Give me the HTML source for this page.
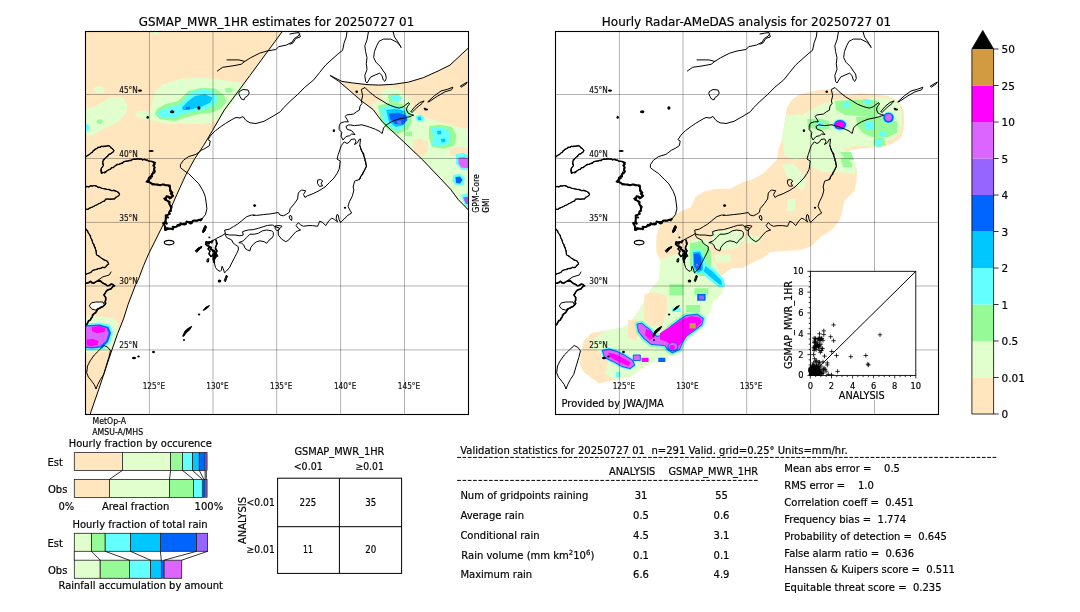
<!DOCTYPE html>
<html><head><meta charset="utf-8"><title>GSMaP validation</title>
<style>html,body{margin:0;padding:0;background:#fff;width:1080px;height:612px;overflow:hidden}</style></head>
<body>
<svg width="1080" height="612" viewBox="0 0 1080 612" style="display:block;font-family:'DejaVu Sans','Liberation Sans',sans-serif;fill:#000">
<style>text{stroke:#000;stroke-width:0.18px;paint-order:stroke}</style>
<rect x="0" y="0" width="1080" height="612" fill="#fff"/>
<text x="276.5" y="25.7" font-size="12" text-anchor="middle" textLength="275.5" lengthAdjust="spacingAndGlyphs">GSMAP_MWR_1HR estimates for 20250727 01</text>
<text x="746.5" y="25.7" font-size="12" text-anchor="middle" textLength="289.5" lengthAdjust="spacingAndGlyphs">Hourly Radar-AMeDAS analysis for 20250727 01</text>
<defs><clipPath id="mapclip"><rect x="85.5" y="31.5" width="383" height="383"/></clipPath></defs>
<g clip-path="url(#mapclip)">
<polygon points="85.5,31.5 282.3,31.5 250.0,75.4 224.3,110.0 212.4,130.7 203.5,145.6 194.6,158.9 185.7,175.2 176.9,194.4 167.2,216.7 162.0,227.0 156.1,238.9 148.7,253.7 143.6,265.6 138.6,278.9 135.6,284.8 128.2,304.1 123.5,318.9 117.6,333.7 112.2,349.1 105.4,369.4 98.6,389.8 90.9,411.9 90.2,414.5 85.5,414.5" fill="#FFE6BE"/>
<polygon points="330.0,75.4 341.9,81.4 352.2,82.9 367.0,84.6 378.9,85.1 393.7,84.3 408.5,82.1 423.3,77.7 438.1,71.0 450.0,65.1 468.5,47.8 468.5,210.1 463.5,204.9 458.3,199.7 450.5,189.2 440.0,178.1 422.8,160.0 403.2,141.4 382.3,121.8 373.0,109.5 361.1,100.6 349.3,90.3 338.9,81.4 330.0,75.4" fill="#FFE6BE"/>
<polygon points="155.0,91.0 163.3,84.3 178.3,79.3 195.0,77.7 211.7,78.5 228.3,81.0 240.0,82.7 246.0,84.0 238.0,95.0 230.0,106.0 222.0,116.0 214.0,122.0 201.7,124.3 185.0,123.5 168.3,124.3 155.0,121.0 140.0,118.0 134.0,114.0 140.0,111.0 150.0,112.0 151.7,104.3 153.3,97.7" fill="#E1FFCC"/>
<polygon points="85.5,109.0 93.2,107.4 101.3,102.5 109.5,97.6 122.6,97.6 127.5,105.8 125.8,113.9 117.7,122.1 104.6,128.6 93.2,135.2 85.5,135.2" fill="#E1FFCC"/>
<polygon points="93.3,88.0 99.0,86.0 105.0,88.5 103.0,92.7 96.0,92.5" fill="#E1FFCC"/>
<polygon points="151.7,31.5 160.0,31.5 158.0,34.3 153.0,34.3" fill="#E1FFCC"/>
<polygon points="156.7,109.3 165.0,104.3 178.3,101.0 188.3,91.0 201.7,87.7 215.0,88.5 223.3,94.3 226.7,101.0 221.7,107.7 211.7,112.7 198.3,114.3 185.0,117.7 175.0,121.0 160.0,119.3 155.0,114.3" fill="#96FA96"/>
<polygon points="225.0,88.5 230.0,87.7 233.3,90.0 231.0,92.7 226.0,92.5" fill="#96FA96"/>
<polygon points="96.7,120.0 101.0,119.3 103.3,122.0 100.0,124.3 97.0,123.0" fill="#96FA96"/>
<polygon points="158.3,111.0 168.3,107.7 180.0,104.3 190.0,92.7 201.7,89.3 213.3,91.0 218.3,97.7 215.0,104.3 206.7,109.3 195.0,111.0 181.7,114.3 175.0,117.7 163.3,117.7 158.3,115.2" fill="#64FFFF"/>
<polygon points="85.5,124.0 89.0,125.0 90.0,129.0 87.0,131.0 85.5,131.0" fill="#64FFFF"/>
<polygon points="181.7,107.7 188.3,101.0 195.0,96.0 205.0,94.3 212.5,97.7 210.0,102.7 201.7,106.8 191.7,109.3 183.3,110.2" fill="#00C8FF"/>
<polygon points="185.8,107.0 190.0,106.5 190.0,109.3 186.0,109.5" fill="#0064FF"/>
<polygon points="85.5,317.0 100.0,316.5 112.0,318.0 118.0,322.0 117.3,333.0 114.0,345.0 108.0,351.0 98.0,352.0 85.5,353.0" fill="#E1FFCC"/>
<polygon points="85.5,323.6 100.0,322.5 110.0,325.0 113.0,332.0 110.0,343.0 104.0,349.0 92.0,350.5 85.5,350.0" fill="#64FFFF"/>
<polygon points="85.5,325.3 100.0,324.5 108.5,327.0 111.0,333.0 108.0,342.0 102.0,347.4 92.0,348.5 85.5,348.0" fill="#0064FF"/>
<polygon points="85.5,326.5 99.0,326.0 106.5,328.0 108.8,333.0 106.0,341.0 100.0,346.2 91.0,347.0 85.5,346.5" fill="#DC64FF"/>
<polygon points="91.8,327.0 100.0,326.1 105.4,328.5 104.5,332.0 97.0,333.0 92.0,331.5" fill="#FF00FF"/>
<polygon points="86.7,339.5 93.0,338.9 98.6,341.0 97.5,345.0 90.0,346.5 86.7,345.0" fill="#FF00FF"/>
<polygon points="380.0,92.0 388.0,88.0 398.0,89.0 404.0,94.0 408.0,100.0 404.0,104.0 395.0,106.0 385.0,104.0" fill="#E1FFCC"/>
<polygon points="372.0,104.0 384.0,100.0 395.0,95.5 405.0,95.0 411.0,100.0 414.0,112.0 424.0,117.0 436.0,121.0 450.0,125.0 460.0,127.5 468.5,129.0 468.5,210.1 463.5,204.9 458.3,199.7 450.5,189.2 440.0,178.1 422.8,160.0 403.2,141.4 382.3,121.8" fill="#E1FFCC"/>
<polygon points="413.0,140.0 420.0,138.5 428.0,142.0 428.0,152.0 422.0,156.8 414.0,153.0" fill="#FFE6BE"/>
<polygon points="449.0,148.0 458.0,146.5 468.5,148.0 468.5,156.0 458.0,158.0 450.0,155.0" fill="#FFE6BE"/>
<polygon points="388.0,95.0 398.0,94.0 402.0,98.0 398.0,103.0 389.0,102.0" fill="#96FA96"/>
<polygon points="391.4,96.0 400.0,95.5 400.6,101.0 392.0,101.9" fill="#64FFFF"/>
<polygon points="405.2,131.6 412.0,131.6 412.0,136.2 405.2,136.2" fill="#96FA96"/>
<polygon points="378.0,106.0 390.0,102.0 402.0,104.0 410.0,112.0 412.0,122.0 408.0,130.0 398.0,134.0 388.0,130.0 381.0,121.0" fill="#96FA96"/>
<polygon points="429.2,126.0 440.0,124.7 452.0,127.0 456.7,136.0 454.0,146.0 444.0,148.8 432.0,147.0 429.0,138.0" fill="#96FA96"/>
<polygon points="380.0,108.0 392.0,105.0 404.0,108.0 408.0,116.0 406.0,126.0 398.0,131.0 390.0,127.0 383.0,120.0" fill="#64FFFF"/>
<polygon points="386.2,110.0 396.0,108.8 405.0,111.0 407.1,118.0 404.0,125.0 396.0,127.0 389.0,122.0" fill="#00C8FF"/>
<polygon points="389.0,113.5 398.0,112.7 406.0,115.0 407.5,120.0 403.0,124.4 395.0,124.0 390.0,119.0" fill="#0064FF"/>
<polygon points="397.0,121.0 400.5,120.5 401.9,123.5 398.0,124.4" fill="#9664FF"/>
<polygon points="415.5,116.0 420.0,114.8 424.1,117.0 423.0,121.8 417.0,121.5" fill="#64FFFF"/>
<polygon points="417.6,117.0 421.0,116.6 421.5,119.9 418.0,119.9" fill="#00C8FF"/>
<polygon points="431.5,128.0 441.0,127.0 449.8,131.0 449.0,143.0 441.0,146.5 432.0,145.0 433.0,137.0" fill="#64FFFF"/>
<polygon points="437.0,131.0 441.0,130.5 441.5,134.0 437.5,134.5" fill="#00C8FF"/>
<polygon points="441.0,139.0 445.0,138.5 445.5,142.0 441.5,142.5" fill="#00C8FF"/>
<polygon points="456.0,154.0 463.0,153.0 468.5,155.0 468.5,170.0 462.0,170.0 456.0,164.0" fill="#64FFFF"/>
<polygon points="458.3,157.8 464.0,157.0 468.5,158.5 468.5,168.3 461.0,167.5 458.5,163.0" fill="#DC64FF"/>
<polygon points="453.0,175.0 460.0,174.0 465.0,178.0 463.5,185.0 456.0,185.5 452.5,181.0" fill="#64FFFF"/>
<polygon points="455.5,177.0 460.0,176.5 462.5,180.0 460.0,183.5 456.0,183.0" fill="#0064FF"/>
<polygon points="461.0,195.0 468.5,193.0 468.5,207.0 465.0,206.0" fill="#64FFFF"/>
<polygon points="463.0,197.5 468.5,196.5 468.5,204.0 466.0,204.0" fill="#9664FF"/>
<polygon points="89.5,305.6 91.3,302.9 95.8,302.0 99.4,302.0 103.0,302.0 104.2,304.5 103.0,306.5 99.4,308.3 95.8,310.1 92.2,309.2" fill="#fff"/>
<g fill="none" stroke="#000" stroke-width="1.0">
<polyline points="282.3,31.5 250.0,75.4 224.3,110.0 212.4,130.7 203.5,145.6 194.6,158.9 185.7,175.2 176.9,194.4 167.2,216.7 162.0,227.0 156.1,238.9 148.7,253.7 143.6,265.6 138.6,278.9 135.6,284.8 128.2,304.1 123.5,318.9 117.6,333.7 112.2,349.1 105.4,369.4 98.6,389.8 90.9,411.9 90.2,414.5"/>
<polyline points="330.0,75.4 341.9,81.4 352.2,82.9 367.0,84.6 378.9,85.1 393.7,84.3 408.5,82.1 423.3,77.7 438.1,71.0 450.0,65.1 468.5,47.8"/>
<polyline points="330.0,75.4 338.9,81.4 349.3,90.3 361.1,100.6 373.0,109.5 382.3,121.8 403.2,141.4 422.8,160.0 440.0,178.1 450.5,189.2 458.3,199.7 463.5,204.9 468.5,210.1"/>
</g>
<g fill="none" stroke="#000" stroke-width="1.0" stroke-linejoin="round" stroke-linecap="round">
<polyline points="201.8,219.1 200.6,220.4 198.8,219.7 197.5,220.7 195.9,220.6 194.3,220.5 192.9,220.8 191.8,223.0 190.3,223.5 188.5,222.1 186.6,221.5 185.9,224.0 184.4,224.6 182.6,224.3 180.5,223.2 179.7,225.5 177.8,224.8 176.8,226.5 175.4,227.1 173.7,227.1 172.8,229.3 170.9,228.7 169.3,228.6 167.6,228.1 166.5,229.7 165.0,230.1 165.6,228.3 165.1,226.6 164.3,225.0 163.1,223.2 165.9,222.3 165.7,220.7 165.7,219.1 165.8,217.3 165.7,215.4 167.9,214.7 169.8,213.8 169.3,211.7 170.9,210.6 170.9,208.8 171.7,206.9 170.6,205.6 169.4,204.4 169.6,201.8 167.2,200.7 165.5,199.9 164.3,198.5 166.2,198.2 166.5,196.3 168.2,196.4 169.7,198.4 171.6,197.1 173.2,195.8 170.7,193.8 172.4,192.6 170.5,191.7 170.0,190.1 170.1,188.2 169.8,185.6 167.2,185.3 165.5,185.3 163.9,184.4 162.1,184.6 160.1,185.3 158.2,184.6 156.2,184.6 154.4,184.5 152.6,184.1 151.0,183.1 149.6,182.3 148.2,181.8 146.6,181.6 149.0,180.5 148.8,177.9 150.3,177.1 152.0,176.5 151.8,174.3 153.7,173.1 154.9,171.5 154.0,169.1 154.8,167.5 153.3,165.5 154.7,164.0" stroke-width="2.0"/>
<polyline points="101.5,173.5 101.0,171.9 100.7,170.2 101.3,168.5 102.3,166.9 103.5,165.6 102.5,163.9 102.8,161.9 103.1,160.0 104.6,158.8 105.7,157.4 107.7,156.4 108.7,154.4 110.4,154.2 111.7,153.0 113.1,152.2 113.9,150.7 112.4,148.5 110.9,147.9 110.0,146.5 108.7,145.6 106.9,146.2 105.1,146.5 103.2,146.8 101.3,146.3 100.1,147.5 98.0,147.1 96.9,148.5 95.3,148.9 94.2,149.9 93.0,150.8 92.4,152.5 90.9,153.0 89.8,154.4 88.1,155.0 86.6,156.0 85.5,157.4" stroke-width="1.15"/>
<polyline points="154.7,164.0 153.2,162.5 155.4,162.6 153.8,162.0 152.1,161.4 150.5,161.0 148.7,161.1 147.4,159.9 145.9,159.8 144.5,159.1 142.5,160.2 141.3,158.9 139.5,159.1 137.7,158.4 135.9,159.1 134.1,158.7 132.4,159.6 131.1,160.7 129.4,160.4 128.1,161.2 126.4,161.1 125.0,161.4 123.5,161.9 122.4,163.4 120.8,163.8 119.2,164.5 117.2,164.2 115.9,165.1 114.6,166.3 113.4,167.7 111.4,167.6 110.5,169.5 108.6,169.6 107.2,170.7 106.1,172.0 104.7,172.9 102.6,172.2 101.5,173.5" stroke-width="1.15"/>
<polyline points="85.5,283.5 86.8,283.1 88.9,282.8 90.4,281.3 91.9,282.9 94.0,283.1 95.3,282.2 96.7,281.3 98.3,280.9 99.8,280.4 101.2,281.7 102.8,283.2 104.8,284.0 106.2,284.8 107.5,285.8 109.6,285.5 111.1,284.0 113.0,284.6 114.7,285.8 113.0,286.2 112.0,287.6 111.0,289.0 109.3,289.4 107.7,289.7 106.6,290.8 105.7,292.1 105.0,293.6 103.9,294.8 104.7,296.2 105.7,297.5 105.7,300.2 105.0,301.6 105.8,303.3 104.8,304.7 103.0,306.5 101.1,307.3 99.4,308.3 97.5,309.1 96.7,311.0 95.7,312.7 94.0,313.7 92.5,315.1 92.2,317.2 90.9,318.4 90.4,320.0 88.5,320.7 87.7,322.6 86.9,324.3 85.5,325.5" stroke-width="1.6"/>
<polyline points="85.5,228.5 86.7,229.8 87.9,231.2 88.2,233.0 89.4,234.4 90.6,235.7 90.6,237.4 91.4,238.8 92.4,240.2 92.4,241.9 93.0,243.4 94.2,244.6 94.3,246.3 95.4,247.6 95.4,249.3 96.3,250.6 96.3,252.2 96.1,253.8 96.9,255.2 98.7,255.7 100.0,256.8 101.3,258.1 102.7,259.0 104.0,260.2 105.7,260.4 107.2,261.1 108.1,262.5 108.7,264.1 106.7,265.1 105.7,267.0 104.3,267.9 102.6,267.1 101.3,268.2 99.9,268.7 98.3,268.5 97.0,269.5 95.5,269.8 93.9,270.0 92.2,270.6 91.1,272.4 89.4,273.0 87.4,273.6 85.5,274.4" stroke-width="1.05"/>
<polyline points="85.5,187.0 87.1,186.3 89.0,187.2 90.4,185.6 92.3,186.2 93.9,185.6 95.6,185.5 97.0,186.2 98.1,187.8 100.0,187.1 101.2,188.2 102.8,188.5 104.3,188.7 105.8,189.0 107.2,189.4 108.8,189.2 110.2,190.0 111.8,190.9 113.7,190.1 115.3,190.7 116.9,191.5 118.8,192.5 119.6,194.5 118.6,195.9 117.2,196.8 115.4,197.3 114.6,198.9 112.8,199.1 110.9,199.5 109.0,199.3 107.2,198.9 105.3,199.1 104.6,201.3 102.7,201.4 101.4,202.6 99.8,203.3 98.2,203.8 97.0,205.0 95.2,205.3 93.9,206.3 92.4,207.1 90.8,207.6 89.2,208.0 88.0,209.3 85.5,209.3" stroke-width="1.05"/>
<polyline points="214.2,262.3 213.8,260.6 213.3,258.9 213.5,257.1 213.0,254.7 214.8,253.1 214.8,251.1 212.9,250.5 210.9,249.2 209.6,246.6 207.0,245.3 205.8,244.2 206.2,242.0 208.3,242.5 209.7,241.9 211.6,242.5 212.5,240.8" stroke-width="2.0"/>
<polyline points="209.6,246.6 208.0,249.0 210.0,251.0 209.4,252.5 209.0,254.0 210.1,255.2 211.0,256.5 213.0,255.0" stroke-width="1.5"/>
<polyline points="216.0,240.0 216.6,242.0 217.0,244.0 216.1,245.7 215.5,247.5 215.5,249.4 217.0,250.5 216.6,252.0 216.0,253.5 217.5,256.0" stroke-width="1.5"/>
<polyline points="359.8,145.6 360.4,147.1 360.7,148.6 361.2,150.1 362.0,151.5 363.1,152.8 363.9,154.2 363.9,155.9 364.3,157.4 365.1,158.8 364.8,160.5 365.7,161.9 365.8,164.2 366.5,166.3 365.6,167.7 365.0,169.2 364.3,170.7 363.2,172.1 362.9,174.0 361.6,175.3 360.6,176.7 360.3,178.4 359.1,179.6" stroke-width="1.1"/>
<polyline points="217.4,71.0 222.6,67.3 233.0,65.8 241.1,64.3 244.8,61.4 250.7,57.7 259.6,53.2 267.0,51.0 275.9,49.5 278.9,46.6 286.3,45.1 292.2,42.1 294.4,38.4 298.1,36.2 299.6,34.0"/>
<polyline points="227.0,59.9 238.9,59.9 244.8,61.4"/>
<polyline points="290.0,34.0 294.4,33.2 298.9,32.5 300.4,36.9 295.9,38.4 293.0,42.9 290.0,44.3"/>
<polyline points="347.0,31.5 346.3,36.9 344.1,42.9 342.6,50.3 338.9,53.2 333.0,58.4 325.6,65.1 319.6,72.5 313.7,79.9 304.8,87.3 297.4,94.7 290.0,101.4 283.3,108.0 280.4,111.7 273.0,116.2 264.0,121.3 256.0,123.5 250.0,122.8 246.0,120.5 243.0,116.5 240.0,118.0 236.0,117.5 233.1,118.9 225.7,123.3 221.3,126.3 215.4,130.7 210.9,135.2 208.0,139.6 210.2,141.1 209.4,145.6 205.0,148.5 201.8,150.0 195.9,154.4 188.5,156.6 183.4,160.3 180.4,164.7 180.4,167.6 184.1,170.6 188.5,173.5 194.4,179.4 198.8,183.8 203.2,191.2 205.4,197.1 206.2,202.9 206.9,208.8 205.4,214.7 201.8,219.1 195.9,220.6 188.5,222.1 182.6,224.3 176.8,226.5 170.9,228.7 165.0,230.1 164.3,225.0 165.7,219.1 167.9,214.7 170.9,208.8 169.4,204.4 167.2,200.7 164.3,198.5 166.5,196.3 171.6,197.1 172.4,192.6 170.1,188.2 167.2,185.3 162.1,184.6 156.2,184.6 151.0,183.1 146.6,181.6 148.8,177.9 151.8,174.3 154.0,169.1 154.7,164.0 153.2,162.5 155.4,162.6 148.7,161.1 141.3,158.9 132.4,159.6 123.5,161.9 114.6,166.3 107.2,170.7 101.5,173.5 101.3,168.5 103.5,165.6 102.8,161.9 105.7,157.4 108.7,154.4 111.7,153.0 113.9,150.7 112.4,148.5 108.7,145.6 101.3,146.3 96.9,148.5 90.9,153.0 85.5,157.4"/>
<polyline points="85.5,187.0 93.9,185.6 102.8,188.5 110.2,190.0 116.9,191.5 119.6,194.5 114.6,198.9 107.2,198.9 99.8,203.3 93.9,206.3 88.0,209.3 85.5,209.3"/>
<polyline points="85.5,228.5 89.4,234.4 92.4,241.9 95.4,249.3 96.9,255.2 101.3,258.1 107.2,261.1 108.7,264.1 105.7,267.0 98.3,268.5 93.9,270.0 89.4,273.0 85.5,274.4"/>
<polyline points="85.5,283.5 86.8,283.1 90.4,281.3 94.0,283.1 96.7,281.3 101.2,281.7 104.8,284.0 107.5,285.8 111.1,284.0 114.7,285.8 112.0,287.6 109.3,289.4 105.7,292.1 103.9,294.8 105.7,297.5 105.7,300.2 104.8,304.7 103.0,306.5 99.4,308.3 96.7,311.0 94.0,313.7 92.2,317.2 90.4,320.0 87.7,322.6 85.5,325.5"/>
<polyline points="97.6,280.4 103.0,276.8 109.3,275.0 111.0,272.0"/>
<polyline points="209.6,246.6 208.0,249.0 210.0,251.0 209.0,254.0 211.0,256.5 213.0,255.0"/>
<polyline points="216.0,240.0 217.0,244.0 215.5,247.5 217.0,250.5 216.0,253.5 217.5,256.0"/>
<polyline points="368.5,31.5 367.0,39.9 364.8,45.8 365.6,51.7 367.0,57.7 366.3,63.6 367.0,69.5 364.8,75.4 365.6,81.4 367.0,83.0 370.7,77.0 375.9,74.7 379.6,73.2 381.9,75.4 383.3,80.0 384.8,81.4 386.3,78.4 385.6,74.0 383.3,71.0 380.4,66.6 375.9,62.1 373.7,57.7 374.4,51.7 376.7,45.8 378.9,41.4 383.3,39.1 390.7,39.1 396.7,42.1 400.4,45.8 401.1,47.6 398.0,42.0 394.5,37.0 393.0,31.5"/>
<polygon points="239.5,91.5 243.0,89.5 248.0,90.0 249.3,93.0 247.5,96.0 245.0,97.5 244.0,99.9 241.5,99.0 240.0,96.5 239.0,94.0" fill="none"/>
<polygon points="104.5,345.7 107.9,347.4 110.5,350.8 108.8,357.5 106.2,366.0 103.7,374.5 100.3,379.6 97.7,384.7 96.0,389.0 94.3,384.7 91.8,381.3 88.4,377.1 86.7,372.8 87.5,366.0 90.1,360.9 94.3,355.0 98.6,350.8 102.0,347.4" fill="none"/>
<polygon points="89.5,305.6 91.3,302.9 95.8,302.0 99.4,302.0 103.0,302.0 104.2,304.5 103.0,306.5 99.4,308.3 95.8,310.1 92.2,309.2" fill="none"/>
<polygon points="205.5,225.6 206.5,227.0 205.0,231.0 203.0,233.0 202.5,231.0 204.0,227.5" fill="#000"/>
<polygon points="225.0,234.2 226.7,237.5 231.7,240.0 233.3,243.3 235.8,245.0 238.3,246.7 238.3,250.0 236.7,253.3 235.0,256.7 233.3,260.0 231.2,264.0 229.5,267.5 226.5,271.0 224.5,272.8 223.3,268.8 222.0,266.2 221.4,270.1 220.1,271.4 217.5,270.1 215.5,267.5 214.2,262.3 213.5,257.1 214.8,253.1 212.9,250.5 210.9,249.2 209.6,246.6 207.0,245.3 205.8,244.2 208.3,242.5 212.5,240.8 216.7,238.3 221.7,235.8" fill="none"/>
<polygon points="195.4,250.5 198.0,248.0 202.0,246.3 200.0,249.0 197.0,252.2" fill="#000"/>
<polygon points="225.0,230.0 229.2,229.2 233.3,226.7 237.5,224.2 241.7,220.8 246.7,216.7 251.7,215.0 256.7,215.4 263.3,214.6 270.8,213.8 278.3,212.5 280.0,215.0 283.3,215.8 286.7,214.2 289.4,212.2 290.2,208.5 294.6,203.3 297.6,198.9 298.3,193.0 301.3,190.0 305.7,190.7 303.5,194.5 305.0,197.5 307.2,195.9 313.1,193.7 319.1,190.7 325.0,187.0 329.4,182.6 333.9,178.1 336.9,173.7 339.1,169.3 339.8,164.8 340.2,161.0 337.0,159.0 338.3,154.4 339.8,150.0 341.3,145.6 344.3,141.9 347.0,143.5 349.5,142.0 351.0,139.5 354.6,138.9 356.0,141.5 354.5,144.5 357.6,142.6 359.1,139.5 360.5,139.0 359.8,145.6 362.0,151.5 364.3,157.4 365.7,161.9 366.5,166.3 364.3,170.7 360.6,176.7 359.1,179.6 354.6,181.1 353.1,187.0 353.9,190.0 352.4,195.9 349.4,201.9 348.0,206.3 350.2,210.7 351.7,213.0 348.0,215.2 345.0,218.1 342.0,221.1 340.6,222.6 339.1,219.6 338.3,215.2 337.0,214.5 336.1,218.1 337.6,221.9 334.6,219.6 331.7,218.1 328.7,221.1 325.7,225.6 322.8,222.6 319.8,221.1 317.6,226.3 312.4,225.6 308.0,225.6 303.5,226.3 300.6,224.8 298.3,222.6 296.1,225.6 298.3,228.5 300.6,230.0 296.1,231.5 292.0,236.0 288.5,240.2 285.8,241.7 281.7,239.2 278.3,235.0 278.3,230.8 279.5,228.0 275.0,226.7 272.5,225.0 267.5,225.4 263.3,226.7 258.3,228.3 253.3,229.6 248.3,230.0 245.0,230.8 242.5,231.7 243.3,235.0 240.0,235.8 235.0,235.0 229.2,235.0 225.8,234.2" fill="none"/>
<polygon points="239.2,242.5 243.3,240.8 246.7,237.5 250.0,234.2 254.2,234.2 258.3,233.3 262.5,230.8 266.7,230.0 271.7,230.8 273.3,232.5 273.3,235.8 271.7,238.3 270.0,239.2 266.7,243.3 264.2,241.7 260.0,240.8 256.7,241.7 253.3,244.2 250.8,247.5 250.0,250.8 247.5,250.0 245.0,248.3 243.8,245.0 241.7,243.3" fill="none"/>
<polygon points="275.5,226.0 279.0,225.5 282.0,226.2 280.0,228.5 277.0,230.8 275.5,229.0" fill="none"/>
<polygon points="289.5,216.0 291.0,215.5 292.0,218.0 291.5,220.5 290.0,219.0" fill="none"/>
<polygon points="213.5,253.0 216.0,252.5 217.0,256.0 215.0,259.0 213.5,257.0" fill="#000"/>
<polygon points="207.5,259.0 208.8,258.5 208.5,262.0 207.3,262.0" fill="#000"/>
<polygon points="365.3,87.8 369.2,91.8 375.8,97.0 382.3,100.9 387.5,104.2 394.0,106.8 399.3,108.1 403.2,106.8 406.0,104.5 408.7,102.7 409.5,104.0 407.0,107.0 406.5,110.0 408.4,113.5 411.5,114.5 413.7,115.2 409.7,116.6 404.5,117.9 398.0,119.2 391.4,121.8 386.2,125.1 383.5,128.0 382.2,133.5 379.0,131.0 375.4,129.3 369.4,127.0 362.0,124.8 354.6,125.6 348.7,124.8 345.9,126.5 347.2,129.3 351.7,130.7 355.0,134.6 351.7,134.0 349.7,135.7 346.0,136.5 343.0,140.0 341.1,136.2 341.8,132.3 339.2,129.7 339.2,125.8 340.5,123.1 344.4,121.8 348.3,121.8 347.0,119.2 345.2,116.6 346.5,115.0 353.5,114.0 356.1,112.0 359.4,110.1 360.0,106.1 362.0,103.5 361.4,100.9 362.7,95.7 361.4,89.8" fill="none"/>
<polygon points="411.0,111.4 415.0,106.5 420.0,102.5 424.1,100.9 422.0,103.5 417.0,107.5 412.5,112.0" fill="none"/>
<polygon points="428.0,101.6 434.5,95.7 441.0,91.0 447.6,89.2 452.9,87.2 451.6,89.8 445.0,91.8 437.2,96.3 429.3,101.6" fill="none"/>
<polygon points="460.7,85.9 467.3,82.0 466.0,84.0 461.5,87.0" fill="none"/>
<polygon points="318.0,180.0 320.5,179.5 322.8,181.0 321.0,183.0 322.5,186.0 319.5,186.3 317.8,184.0" fill="none"/>
<polygon points="182.8,335.9 185.0,331.0 188.0,328.5 191.7,326.3 190.0,329.5 186.0,333.0 184.0,336.0" fill="#000"/>
<polygon points="203.5,310.0 206.0,307.0 209.4,305.6 207.5,308.0 204.5,310.0" fill="#000"/>
<polygon points="226.5,275.5 227.5,276.0 225.5,281.5 224.5,281.0" fill="#000"/>
</g>
<ellipse cx="219.5" cy="281" rx="1.8" ry="1.6" fill="#000"/>
<ellipse cx="199.1" cy="314.4" rx="1.2" ry="1.0" fill="#000"/>
<ellipse cx="153.5" cy="352" rx="1.4" ry="1.2" fill="#000"/>
<ellipse cx="134" cy="358" rx="2.0" ry="1.3" fill="#000"/>
<ellipse cx="138.5" cy="356.5" rx="1.3" ry="1.0" fill="#000"/>
<ellipse cx="169.1" cy="242.6" rx="4.8" ry="2.2" fill="none" stroke="#000" stroke-width="1.15"/>
<ellipse cx="209.4" cy="237.4" rx="1.0" ry="0.9" fill="#000"/>
<ellipse cx="254.6" cy="205.6" rx="1.5" ry="1.3" fill="#000"/>
<ellipse cx="253.9" cy="215.2" rx="0.9" ry="0.8" fill="#000"/>
<ellipse cx="345" cy="207.8" rx="1.2" ry="1.0" fill="#000"/>
<ellipse cx="356.7" cy="91.7" rx="1.3" ry="1.2" fill="#000"/>
<ellipse cx="333.9" cy="130.7" rx="1.2" ry="1.4" fill="#000"/>
<ellipse cx="426.1" cy="109.4" rx="2.0" ry="1.0" fill="#000"/>
<ellipse cx="424.8" cy="108.5" rx="1.2" ry="0.8" fill="#000"/>
<ellipse cx="140" cy="90.6" rx="2.0" ry="1.2" fill="#000"/>
<ellipse cx="147.7" cy="117.3" rx="1.2" ry="1.5" fill="#000"/>
<ellipse cx="151.2" cy="151" rx="2.6" ry="1.0" fill="#000"/>
<ellipse cx="172.2" cy="111.7" rx="2.2" ry="1.5" fill="#000"/>
<ellipse cx="198.9" cy="108" rx="1.6" ry="1.8" fill="#000"/>
<ellipse cx="184" cy="340" rx="1.0" ry="1.0" fill="#000"/>
<ellipse cx="165.5" cy="228.5" rx="1.6" ry="1.3" fill="#000"/>
<ellipse cx="166.5" cy="223.5" rx="1.3" ry="1.2" fill="#000"/>
<ellipse cx="168" cy="217.5" rx="1.2" ry="1.0" fill="#000"/>
<ellipse cx="170.5" cy="211" rx="1.2" ry="1.1" fill="#000"/>
<ellipse cx="165.5" cy="199.5" rx="1.3" ry="1.1" fill="#000"/>
<ellipse cx="170.5" cy="198" rx="1.0" ry="1.0" fill="#000"/>
<ellipse cx="173" cy="226.8" rx="1.4" ry="1.0" fill="#000"/>
<ellipse cx="178" cy="225.5" rx="1.3" ry="1.0" fill="#000"/>
<ellipse cx="184" cy="223.5" rx="1.2" ry="1.0" fill="#000"/>
<ellipse cx="190" cy="222.2" rx="1.3" ry="1.0" fill="#000"/>
<ellipse cx="196" cy="220.8" rx="1.2" ry="0.9" fill="#000"/>
<ellipse cx="200.5" cy="219.5" rx="1.0" ry="0.9" fill="#000"/>
<ellipse cx="150.5" cy="178.5" rx="1.2" ry="1.0" fill="#000"/>
<ellipse cx="147.8" cy="182" rx="1.2" ry="1.0" fill="#000"/>
<ellipse cx="152.5" cy="184.5" rx="1.0" ry="0.9" fill="#000"/>
<ellipse cx="158" cy="185.3" rx="0.9" ry="0.8" fill="#000"/>
<ellipse cx="208.5" cy="243.5" rx="1.4" ry="1.2" fill="#000"/>
<ellipse cx="211" cy="247.5" rx="1.2" ry="1.1" fill="#000"/>
<ellipse cx="213" cy="251.5" rx="1.1" ry="1.1" fill="#000"/>
<ellipse cx="216.5" cy="243" rx="1.0" ry="1.0" fill="#000"/>
<ellipse cx="214.5" cy="259" rx="1.0" ry="1.0" fill="#000"/>
<ellipse cx="201" cy="247.5" rx="1.1" ry="0.9" fill="#000"/>
<g stroke="#000" stroke-opacity="0.3" stroke-width="1">
<line x1="149.4" y1="31.5" x2="149.4" y2="414.5"/>
<line x1="213.0" y1="31.5" x2="213.0" y2="414.5"/>
<line x1="276.7" y1="31.5" x2="276.7" y2="414.5"/>
<line x1="340.6" y1="31.5" x2="340.6" y2="414.5"/>
<line x1="404.5" y1="31.5" x2="404.5" y2="414.5"/>
<line x1="85.5" y1="94.5" x2="468.5" y2="94.5"/>
<line x1="85.5" y1="158.5" x2="468.5" y2="158.5"/>
<line x1="85.5" y1="222.4" x2="468.5" y2="222.4"/>
<line x1="85.5" y1="286.0" x2="468.5" y2="286.0"/>
<line x1="85.5" y1="349.9" x2="468.5" y2="349.9"/>
</g>
</g>
<g font-size="8.6" fill="#111">
<text x="119.2" y="92.8" textLength="18.6" lengthAdjust="spacingAndGlyphs">45°N</text>
<text x="119.2" y="156.8" textLength="18.6" lengthAdjust="spacingAndGlyphs">40°N</text>
<text x="119.2" y="220.7" textLength="18.6" lengthAdjust="spacingAndGlyphs">35°N</text>
<text x="119.2" y="284.3" textLength="18.6" lengthAdjust="spacingAndGlyphs">30°N</text>
<text x="119.2" y="348.2" textLength="18.6" lengthAdjust="spacingAndGlyphs">25°N</text>
<text x="142.7" y="388.9" textLength="22.4" lengthAdjust="spacingAndGlyphs">125°E</text>
<text x="206.3" y="388.9" textLength="22.4" lengthAdjust="spacingAndGlyphs">130°E</text>
<text x="270.0" y="388.9" textLength="22.4" lengthAdjust="spacingAndGlyphs">135°E</text>
<text x="333.9" y="388.9" textLength="22.4" lengthAdjust="spacingAndGlyphs">140°E</text>
<text x="397.8" y="388.9" textLength="22.4" lengthAdjust="spacingAndGlyphs">145°E</text>
</g>
<rect x="85.5" y="31.5" width="383" height="383" fill="none" stroke="#000" stroke-width="1.1"/>
<text x="0" y="0" font-size="8.6" transform="translate(479.2,212.7) rotate(-90)" textLength="38.5" lengthAdjust="spacingAndGlyphs">GPM-Core</text>
<text x="0" y="0" font-size="8.6" transform="translate(489.0,212.7) rotate(-90)" textLength="14.1" lengthAdjust="spacingAndGlyphs">GMI</text>
<g clip-path="url(#mapclip2)">
<defs><clipPath id="mapclip2"><rect x="555.5" y="31.5" width="383" height="383"/></clipPath></defs>
<polygon points="786.7,108.3 791.7,100.0 798.3,95.0 806.7,92.5 818.3,90.0 830.0,89.2 840.0,93.3 850.0,95.0 860.0,93.3 873.3,94.2 886.7,95.8 893.3,98.3 900.0,103.3 903.3,110.0 904.2,120.0 903.3,130.0 901.7,136.7 893.3,143.3 883.3,146.7 873.3,148.3 860.0,148.3 851.7,150.0 846.7,153.3 846.7,160.0 853.3,163.3 856.7,168.3 856.7,180.0 854.5,190.9 844.3,201.1 842.2,211.3 840.2,219.5 832.0,229.7 819.8,237.8 811.6,246.0 801.4,250.1 783.0,251.1 770.7,252.1 762.6,258.3 757.6,260.2 742.0,268.0 731.6,268.0 721.2,275.8 723.8,286.2 721.2,294.0 713.4,301.8 710.8,309.5 705.6,319.9 700.5,327.7 692.7,335.5 684.9,343.3 677.1,351.1 669.3,356.3 664.1,361.5 653.7,361.5 640.7,369.3 630.3,377.1 614.7,379.7 599.2,383.6 594.0,379.7 583.6,371.9 579.7,364.1 581.0,353.7 583.6,340.7 591.4,332.9 607.0,330.3 622.5,327.7 630.3,322.5 635.5,314.7 640.7,307.0 645.9,299.2 651.1,288.8 658.9,280.0 664.0,274.0 663.1,265.6 660.2,259.6 656.3,252.2 656.3,235.8 660.4,225.6 670.6,217.4 680.9,211.3 691.1,207.2 695.2,197.0 705.4,190.9 717.6,188.8 729.9,188.8 742.1,182.7 754.4,178.6 763.3,173.3 770.0,166.7 776.7,160.0 778.3,150.0 781.7,140.0 783.3,130.0 785.0,120.0" fill="#FFE6BE"/>
<polygon points="808.0,112.0 820.0,105.0 834.0,100.0 850.0,99.0 866.0,99.0 880.0,97.0 892.0,99.0 899.0,104.0 902.0,112.0 902.0,124.0 899.0,133.0 893.0,138.5 885.0,141.5 878.0,146.0 872.0,148.0 866.0,146.0 856.0,145.5 848.0,149.0 840.0,146.0 830.0,143.0 818.0,140.0 808.0,136.0 800.0,130.0 796.0,122.0 800.0,116.0" fill="#E1FFCC"/>
<polygon points="786.0,116.0 798.0,114.0 808.0,120.0 812.0,132.0 812.0,146.0 808.0,156.0 796.0,160.0 784.0,155.0 782.0,136.0" fill="#E1FFCC"/>
<polygon points="835.0,101.0 850.0,100.0 866.0,99.0 878.0,101.0 880.0,110.0 876.0,117.0 860.0,116.0 845.0,115.0 836.0,110.0" fill="#96FA96"/>
<polygon points="856.0,117.0 872.0,116.0 886.0,118.0 897.6,122.0 897.0,133.0 888.0,137.0 876.0,138.0 864.0,134.0 857.0,126.0" fill="#96FA96"/>
<polygon points="807.0,119.3 820.0,118.5 829.0,121.0 829.0,129.1 818.0,130.0 808.0,127.0" fill="#96FA96"/>
<polygon points="874.0,138.0 884.0,137.5 886.0,145.0 878.0,147.5 873.0,144.0" fill="#96FA96"/>
<polygon points="843.7,102.2 849.9,102.2 849.9,107.0 843.7,107.0" fill="#64FFFF"/>
<polygon points="864.6,99.7 870.7,99.7 870.7,104.6 864.6,104.6" fill="#64FFFF"/>
<polygon points="865.8,121.8 873.1,121.8 873.1,129.1 865.8,129.1" fill="#64FFFF"/>
<polygon points="879.3,131.6 885.4,131.6 885.4,136.5 879.3,136.5" fill="#64FFFF"/>
<polygon points="875.6,140.1 881.7,140.1 881.7,146.3 875.6,146.3" fill="#64FFFF"/>
<polygon points="816.8,121.8 824.1,121.8 824.1,126.7 816.8,126.7" fill="#64FFFF"/>
<ellipse cx="840" cy="124.8" rx="7.2" ry="6" fill="#64FFFF"/>
<ellipse cx="840" cy="124.8" rx="6" ry="4.8" fill="#0064FF"/>
<ellipse cx="840" cy="124.8" rx="4.6" ry="3.4" fill="#FF00FF"/>
<ellipse cx="888.5" cy="117.8" rx="6.2" ry="6" fill="#64FFFF"/>
<ellipse cx="888.5" cy="117.8" rx="5.2" ry="5" fill="#0064FF"/>
<ellipse cx="888.5" cy="117.5" rx="3.4" ry="3.4" fill="#DC64FF"/>
<polygon points="806.0,138.0 830.0,139.0 846.0,150.0 856.0,163.0 855.0,174.0 842.0,172.4 822.0,172.0 809.6,166.0 804.0,150.0" fill="#E1FFCC"/>
<polygon points="840.6,157.8 848.0,157.8 852.0,164.0 852.0,167.6 843.0,167.0" fill="#96FA96"/>
<polygon points="782.0,165.0 792.0,163.0 800.0,170.0 806.0,180.0 804.0,190.0 796.0,186.0 788.0,178.0" fill="#E1FFCC"/>
<polygon points="787.0,199.0 795.0,199.0 795.0,211.0 787.0,211.0" fill="#E1FFCC"/>
<polygon points="840.0,152.0 851.0,152.0 854.0,160.0 846.0,160.0" fill="#96FA96"/>
<polygon points="712.0,232.0 725.0,230.0 743.7,231.0 744.0,240.0 738.0,248.0 720.0,250.0 712.0,246.0" fill="#E1FFCC"/>
<polygon points="715.0,254.4 730.6,254.4 730.6,262.3 715.0,262.3" fill="#E1FFCC"/>
<polygon points="746.0,236.0 759.0,236.0 759.0,243.0 746.0,243.0" fill="#E1FFCC"/>
<polygon points="691.4,240.0 709.7,240.0 709.7,253.0 716.0,265.0 721.0,275.8 723.8,286.2 721.2,294.0 713.4,301.8 710.8,309.5 705.6,319.9 700.5,327.7 692.7,335.5 684.9,343.3 677.1,351.1 669.3,356.3 664.1,361.5 653.7,361.5 640.7,369.3 630.3,377.1 614.7,379.7 605.0,374.0 608.0,362.0 600.0,352.0 590.0,348.0 595.0,338.0 607.0,330.3 622.5,327.7 630.3,322.5 635.5,314.7 640.7,307.0 645.9,299.2 651.1,288.8 658.9,280.0 660.0,259.7 670.0,256.0 682.0,253.0" fill="#E1FFCC"/>
<polygon points="644.4,293.9 655.0,292.0 666.7,296.0 667.0,312.0 662.0,325.8 650.0,326.0 644.0,318.0" fill="#FFE6BE"/>
<polygon points="627.8,320.0 637.0,318.9 639.0,330.0 636.0,341.0 628.0,338.0" fill="#FFE6BE"/>
<polygon points="583.0,355.0 595.0,352.0 605.0,358.0 600.0,372.0 590.0,375.0 582.0,368.0" fill="#FFE6BE"/>
<polygon points="669.4,284.2 683.3,284.2 683.3,295.3 669.4,295.3" fill="#96FA96"/>
<polygon points="694.4,288.3 708.3,288.3 708.3,295.3 694.4,295.3" fill="#96FA96"/>
<polygon points="686.1,305.0 700.0,305.0 700.0,312.0 686.1,312.0" fill="#96FA96"/>
<polygon points="698.0,241.0 703.0,241.0 703.0,248.0 698.0,248.0" fill="#96FA96"/>
<polygon points="690.0,243.0 700.0,242.0 708.0,246.0 711.0,252.0 711.0,262.0 711.0,276.0 700.0,276.0 692.0,272.0 689.6,262.0" fill="#96FA96"/>
<polygon points="700.0,263.0 706.0,265.0 714.0,271.0 722.0,279.0 724.0,285.0 720.0,286.5 713.0,281.0 706.0,275.0 700.0,270.0" fill="#00C8FF" stroke="#64FFFF" stroke-width="2.5" stroke-linejoin="round"/>
<polygon points="692.5,250.0 700.0,249.7 705.3,256.0 705.0,268.0 702.0,274.0 695.0,274.0 692.5,265.0" fill="#64FFFF"/>
<polygon points="693.0,252.0 700.0,251.5 703.0,258.0 703.0,270.0 698.0,273.0 693.5,268.0" fill="#00C8FF"/>
<polygon points="693.8,254.0 699.0,253.0 701.4,258.0 701.2,269.5 697.0,270.5 694.3,266.0" fill="#0064FF"/>
<ellipse cx="697" cy="265" rx="1.2" ry="1.2" fill="#9664FF"/>
<polygon points="672.2,307.8 680.6,307.8 680.6,312.0 672.2,312.0" fill="#64FFFF"/>
<polygon points="697.2,293.9 705.6,293.9 705.6,300.8 697.2,300.8" fill="#0064FF"/>
<polygon points="699.0,295.5 704.0,295.5 704.0,299.5 699.0,299.5" fill="#9664FF"/>
<polygon points="677.8,321.7 686.1,316.1 697.2,314.7 702.8,318.9 701.4,324.4 694.4,330.0 686.1,335.6 681.9,342.5 679.2,349.4 672.2,352.2 668.0,349.4 665.3,345.3 658.3,344.6 651.4,343.9 644.4,338.3 638.9,331.4 637.5,324.4 641.7,323.8 645.8,327.2 650.0,330.0 652.8,334.2 656.9,336.9 662.5,335.6 666.7,331.4 672.2,325.8" fill="#96FA96" stroke="#96FA96" stroke-width="6" stroke-linejoin="round"/>
<polygon points="677.8,321.7 686.1,316.1 697.2,314.7 702.8,318.9 701.4,324.4 694.4,330.0 686.1,335.6 681.9,342.5 679.2,349.4 672.2,352.2 668.0,349.4 665.3,345.3 658.3,344.6 651.4,343.9 644.4,338.3 638.9,331.4 637.5,324.4 641.7,323.8 645.8,327.2 650.0,330.0 652.8,334.2 656.9,336.9 662.5,335.6 666.7,331.4 672.2,325.8" fill="#64FFFF" stroke="#64FFFF" stroke-width="4" stroke-linejoin="round"/>
<polygon points="677.8,321.7 686.1,316.1 697.2,314.7 702.8,318.9 701.4,324.4 694.4,330.0 686.1,335.6 681.9,342.5 679.2,349.4 672.2,352.2 668.0,349.4 665.3,345.3 658.3,344.6 651.4,343.9 644.4,338.3 638.9,331.4 637.5,324.4 641.7,323.8 645.8,327.2 650.0,330.0 652.8,334.2 656.9,336.9 662.5,335.6 666.7,331.4 672.2,325.8" fill="#0064FF" stroke="#0064FF" stroke-width="2" stroke-linejoin="round"/>
<polygon points="677.8,321.7 686.1,316.1 697.2,314.7 702.8,318.9 701.4,324.4 694.4,330.0 686.1,335.6 681.9,342.5 679.2,349.4 672.2,352.2 668.0,349.4 665.3,345.3 658.3,344.6 651.4,343.9 644.4,338.3 638.9,331.4 637.5,324.4 641.7,323.8 645.8,327.2 650.0,330.0 652.8,334.2 656.9,336.9 662.5,335.6 666.7,331.4 672.2,325.8" fill="#DC64FF"/>
<polygon points="660.0,333.0 668.0,328.0 676.0,323.0 684.0,318.5 692.0,316.3 700.0,317.8 701.5,322.0 696.0,328.5 688.0,334.5 684.0,340.0 679.5,345.5 672.0,345.5 666.0,341.5 660.0,339.5" fill="#FF00FF"/>
<polygon points="646.0,329.0 651.0,331.0 655.0,337.0 650.0,340.0 645.0,335.0" fill="#FF00FF"/>
<polygon points="689.6,323.0 695.8,323.0 695.8,328.6 689.6,328.6" fill="#D29B41"/>
<ellipse cx="672.9" cy="347" rx="5.5" ry="4.6" fill="#0064FF"/>
<ellipse cx="672.9" cy="346.6" rx="4.4" ry="3.6" fill="#DC64FF"/>
<ellipse cx="672.2" cy="347.3" rx="2.8" ry="2.2" fill="#FF00FF"/>
<polygon points="603.0,351.0 609.0,349.5 617.0,352.0 625.0,356.0 632.0,360.5 634.0,365.0 630.0,368.0 622.0,366.0 613.0,361.0 605.0,357.0" fill="#64FFFF" stroke="#64FFFF" stroke-width="4" stroke-linejoin="round"/>
<polygon points="603.0,351.0 609.0,349.5 617.0,352.0 625.0,356.0 632.0,360.5 634.0,365.0 630.0,368.0 622.0,366.0 613.0,361.0 605.0,357.0" fill="#0064FF" stroke="#0064FF" stroke-width="2" stroke-linejoin="round"/>
<polygon points="603.0,351.0 609.0,349.5 617.0,352.0 625.0,356.0 632.0,360.5 634.0,365.0 630.0,368.0 622.0,366.0 613.0,361.0 605.0,357.0" fill="#DC64FF"/>
<polygon points="608.0,352.5 616.0,354.5 625.0,359.0 631.0,363.0 628.5,366.0 619.0,362.0 610.0,357.0" fill="#FF00FF"/>
<polygon points="633.3,355.0 640.3,355.0 640.3,360.6 633.3,360.6" fill="#DC64FF" stroke="#0064FF" stroke-width="1"/>
<polygon points="641.7,357.8 648.6,357.8 648.6,362.0 641.7,362.0" fill="#FF00FF"/>
<polygon points="658.3,357.8 665.3,357.8 665.3,362.0 658.3,362.0" fill="#0064FF"/>
<polygon points="616.0,372.0 620.0,372.0 620.0,377.0 616.0,377.0" fill="#64FFFF"/>
<g transform="translate(470,0)">
<g fill="none" stroke="#000" stroke-width="1.0" stroke-linejoin="round" stroke-linecap="round">
<polyline points="201.8,219.1 200.6,220.4 198.8,219.7 197.5,220.7 195.9,220.6 194.3,220.5 192.9,220.8 191.8,223.0 190.3,223.5 188.5,222.1 186.6,221.5 185.9,224.0 184.4,224.6 182.6,224.3 180.5,223.2 179.7,225.5 177.8,224.8 176.8,226.5 175.4,227.1 173.7,227.1 172.8,229.3 170.9,228.7 169.3,228.6 167.6,228.1 166.5,229.7 165.0,230.1 165.6,228.3 165.1,226.6 164.3,225.0 163.1,223.2 165.9,222.3 165.7,220.7 165.7,219.1 165.8,217.3 165.7,215.4 167.9,214.7 169.8,213.8 169.3,211.7 170.9,210.6 170.9,208.8 171.7,206.9 170.6,205.6 169.4,204.4 169.6,201.8 167.2,200.7 165.5,199.9 164.3,198.5 166.2,198.2 166.5,196.3 168.2,196.4 169.7,198.4 171.6,197.1 173.2,195.8 170.7,193.8 172.4,192.6 170.5,191.7 170.0,190.1 170.1,188.2 169.8,185.6 167.2,185.3 165.5,185.3 163.9,184.4 162.1,184.6 160.1,185.3 158.2,184.6 156.2,184.6 154.4,184.5 152.6,184.1 151.0,183.1 149.6,182.3 148.2,181.8 146.6,181.6 149.0,180.5 148.8,177.9 150.3,177.1 152.0,176.5 151.8,174.3 153.7,173.1 154.9,171.5 154.0,169.1 154.8,167.5 153.3,165.5 154.7,164.0" stroke-width="2.0"/>
<polyline points="101.5,173.5 101.0,171.9 100.7,170.2 101.3,168.5 102.3,166.9 103.5,165.6 102.5,163.9 102.8,161.9 103.1,160.0 104.6,158.8 105.7,157.4 107.7,156.4 108.7,154.4 110.4,154.2 111.7,153.0 113.1,152.2 113.9,150.7 112.4,148.5 110.9,147.9 110.0,146.5 108.7,145.6 106.9,146.2 105.1,146.5 103.2,146.8 101.3,146.3 100.1,147.5 98.0,147.1 96.9,148.5 95.3,148.9 94.2,149.9 93.0,150.8 92.4,152.5 90.9,153.0 89.8,154.4 88.1,155.0 86.6,156.0 85.5,157.4" stroke-width="1.15"/>
<polyline points="154.7,164.0 153.2,162.5 155.4,162.6 153.8,162.0 152.1,161.4 150.5,161.0 148.7,161.1 147.4,159.9 145.9,159.8 144.5,159.1 142.5,160.2 141.3,158.9 139.5,159.1 137.7,158.4 135.9,159.1 134.1,158.7 132.4,159.6 131.1,160.7 129.4,160.4 128.1,161.2 126.4,161.1 125.0,161.4 123.5,161.9 122.4,163.4 120.8,163.8 119.2,164.5 117.2,164.2 115.9,165.1 114.6,166.3 113.4,167.7 111.4,167.6 110.5,169.5 108.6,169.6 107.2,170.7 106.1,172.0 104.7,172.9 102.6,172.2 101.5,173.5" stroke-width="1.15"/>
<polyline points="85.5,283.5 86.8,283.1 88.9,282.8 90.4,281.3 91.9,282.9 94.0,283.1 95.3,282.2 96.7,281.3 98.3,280.9 99.8,280.4 101.2,281.7 102.8,283.2 104.8,284.0 106.2,284.8 107.5,285.8 109.6,285.5 111.1,284.0 113.0,284.6 114.7,285.8 113.0,286.2 112.0,287.6 111.0,289.0 109.3,289.4 107.7,289.7 106.6,290.8 105.7,292.1 105.0,293.6 103.9,294.8 104.7,296.2 105.7,297.5 105.7,300.2 105.0,301.6 105.8,303.3 104.8,304.7 103.0,306.5 101.1,307.3 99.4,308.3 97.5,309.1 96.7,311.0 95.7,312.7 94.0,313.7 92.5,315.1 92.2,317.2 90.9,318.4 90.4,320.0 88.5,320.7 87.7,322.6 86.9,324.3 85.5,325.5" stroke-width="1.6"/>
<polyline points="85.5,228.5 86.7,229.8 87.9,231.2 88.2,233.0 89.4,234.4 90.6,235.7 90.6,237.4 91.4,238.8 92.4,240.2 92.4,241.9 93.0,243.4 94.2,244.6 94.3,246.3 95.4,247.6 95.4,249.3 96.3,250.6 96.3,252.2 96.1,253.8 96.9,255.2 98.7,255.7 100.0,256.8 101.3,258.1 102.7,259.0 104.0,260.2 105.7,260.4 107.2,261.1 108.1,262.5 108.7,264.1 106.7,265.1 105.7,267.0 104.3,267.9 102.6,267.1 101.3,268.2 99.9,268.7 98.3,268.5 97.0,269.5 95.5,269.8 93.9,270.0 92.2,270.6 91.1,272.4 89.4,273.0 87.4,273.6 85.5,274.4" stroke-width="1.05"/>
<polyline points="85.5,187.0 87.1,186.3 89.0,187.2 90.4,185.6 92.3,186.2 93.9,185.6 95.6,185.5 97.0,186.2 98.1,187.8 100.0,187.1 101.2,188.2 102.8,188.5 104.3,188.7 105.8,189.0 107.2,189.4 108.8,189.2 110.2,190.0 111.8,190.9 113.7,190.1 115.3,190.7 116.9,191.5 118.8,192.5 119.6,194.5 118.6,195.9 117.2,196.8 115.4,197.3 114.6,198.9 112.8,199.1 110.9,199.5 109.0,199.3 107.2,198.9 105.3,199.1 104.6,201.3 102.7,201.4 101.4,202.6 99.8,203.3 98.2,203.8 97.0,205.0 95.2,205.3 93.9,206.3 92.4,207.1 90.8,207.6 89.2,208.0 88.0,209.3 85.5,209.3" stroke-width="1.05"/>
<polyline points="214.2,262.3 213.8,260.6 213.3,258.9 213.5,257.1 213.0,254.7 214.8,253.1 214.8,251.1 212.9,250.5 210.9,249.2 209.6,246.6 207.0,245.3 205.8,244.2 206.2,242.0 208.3,242.5 209.7,241.9 211.6,242.5 212.5,240.8" stroke-width="2.0"/>
<polyline points="209.6,246.6 208.0,249.0 210.0,251.0 209.4,252.5 209.0,254.0 210.1,255.2 211.0,256.5 213.0,255.0" stroke-width="1.5"/>
<polyline points="216.0,240.0 216.6,242.0 217.0,244.0 216.1,245.7 215.5,247.5 215.5,249.4 217.0,250.5 216.6,252.0 216.0,253.5 217.5,256.0" stroke-width="1.5"/>
<polyline points="359.8,145.6 360.4,147.1 360.7,148.6 361.2,150.1 362.0,151.5 363.1,152.8 363.9,154.2 363.9,155.9 364.3,157.4 365.1,158.8 364.8,160.5 365.7,161.9 365.8,164.2 366.5,166.3 365.6,167.7 365.0,169.2 364.3,170.7 363.2,172.1 362.9,174.0 361.6,175.3 360.6,176.7 360.3,178.4 359.1,179.6" stroke-width="1.1"/>
<polyline points="217.4,71.0 222.6,67.3 233.0,65.8 241.1,64.3 244.8,61.4 250.7,57.7 259.6,53.2 267.0,51.0 275.9,49.5 278.9,46.6 286.3,45.1 292.2,42.1 294.4,38.4 298.1,36.2 299.6,34.0"/>
<polyline points="227.0,59.9 238.9,59.9 244.8,61.4"/>
<polyline points="290.0,34.0 294.4,33.2 298.9,32.5 300.4,36.9 295.9,38.4 293.0,42.9 290.0,44.3"/>
<polyline points="347.0,31.5 346.3,36.9 344.1,42.9 342.6,50.3 338.9,53.2 333.0,58.4 325.6,65.1 319.6,72.5 313.7,79.9 304.8,87.3 297.4,94.7 290.0,101.4 283.3,108.0 280.4,111.7 273.0,116.2 264.0,121.3 256.0,123.5 250.0,122.8 246.0,120.5 243.0,116.5 240.0,118.0 236.0,117.5 233.1,118.9 225.7,123.3 221.3,126.3 215.4,130.7 210.9,135.2 208.0,139.6 210.2,141.1 209.4,145.6 205.0,148.5 201.8,150.0 195.9,154.4 188.5,156.6 183.4,160.3 180.4,164.7 180.4,167.6 184.1,170.6 188.5,173.5 194.4,179.4 198.8,183.8 203.2,191.2 205.4,197.1 206.2,202.9 206.9,208.8 205.4,214.7 201.8,219.1 195.9,220.6 188.5,222.1 182.6,224.3 176.8,226.5 170.9,228.7 165.0,230.1 164.3,225.0 165.7,219.1 167.9,214.7 170.9,208.8 169.4,204.4 167.2,200.7 164.3,198.5 166.5,196.3 171.6,197.1 172.4,192.6 170.1,188.2 167.2,185.3 162.1,184.6 156.2,184.6 151.0,183.1 146.6,181.6 148.8,177.9 151.8,174.3 154.0,169.1 154.7,164.0 153.2,162.5 155.4,162.6 148.7,161.1 141.3,158.9 132.4,159.6 123.5,161.9 114.6,166.3 107.2,170.7 101.5,173.5 101.3,168.5 103.5,165.6 102.8,161.9 105.7,157.4 108.7,154.4 111.7,153.0 113.9,150.7 112.4,148.5 108.7,145.6 101.3,146.3 96.9,148.5 90.9,153.0 85.5,157.4"/>
<polyline points="85.5,187.0 93.9,185.6 102.8,188.5 110.2,190.0 116.9,191.5 119.6,194.5 114.6,198.9 107.2,198.9 99.8,203.3 93.9,206.3 88.0,209.3 85.5,209.3"/>
<polyline points="85.5,228.5 89.4,234.4 92.4,241.9 95.4,249.3 96.9,255.2 101.3,258.1 107.2,261.1 108.7,264.1 105.7,267.0 98.3,268.5 93.9,270.0 89.4,273.0 85.5,274.4"/>
<polyline points="85.5,283.5 86.8,283.1 90.4,281.3 94.0,283.1 96.7,281.3 101.2,281.7 104.8,284.0 107.5,285.8 111.1,284.0 114.7,285.8 112.0,287.6 109.3,289.4 105.7,292.1 103.9,294.8 105.7,297.5 105.7,300.2 104.8,304.7 103.0,306.5 99.4,308.3 96.7,311.0 94.0,313.7 92.2,317.2 90.4,320.0 87.7,322.6 85.5,325.5"/>
<polyline points="97.6,280.4 103.0,276.8 109.3,275.0 111.0,272.0"/>
<polyline points="209.6,246.6 208.0,249.0 210.0,251.0 209.0,254.0 211.0,256.5 213.0,255.0"/>
<polyline points="216.0,240.0 217.0,244.0 215.5,247.5 217.0,250.5 216.0,253.5 217.5,256.0"/>
<polyline points="368.5,31.5 367.0,39.9 364.8,45.8 365.6,51.7 367.0,57.7 366.3,63.6 367.0,69.5 364.8,75.4 365.6,81.4 367.0,83.0 370.7,77.0 375.9,74.7 379.6,73.2 381.9,75.4 383.3,80.0 384.8,81.4 386.3,78.4 385.6,74.0 383.3,71.0 380.4,66.6 375.9,62.1 373.7,57.7 374.4,51.7 376.7,45.8 378.9,41.4 383.3,39.1 390.7,39.1 396.7,42.1 400.4,45.8 401.1,47.6 398.0,42.0 394.5,37.0 393.0,31.5"/>
<polygon points="239.5,91.5 243.0,89.5 248.0,90.0 249.3,93.0 247.5,96.0 245.0,97.5 244.0,99.9 241.5,99.0 240.0,96.5 239.0,94.0" fill="none"/>
<polygon points="104.5,345.7 107.9,347.4 110.5,350.8 108.8,357.5 106.2,366.0 103.7,374.5 100.3,379.6 97.7,384.7 96.0,389.0 94.3,384.7 91.8,381.3 88.4,377.1 86.7,372.8 87.5,366.0 90.1,360.9 94.3,355.0 98.6,350.8 102.0,347.4" fill="none"/>
<polygon points="89.5,305.6 91.3,302.9 95.8,302.0 99.4,302.0 103.0,302.0 104.2,304.5 103.0,306.5 99.4,308.3 95.8,310.1 92.2,309.2" fill="none"/>
<polygon points="205.5,225.6 206.5,227.0 205.0,231.0 203.0,233.0 202.5,231.0 204.0,227.5" fill="#000"/>
<polygon points="225.0,234.2 226.7,237.5 231.7,240.0 233.3,243.3 235.8,245.0 238.3,246.7 238.3,250.0 236.7,253.3 235.0,256.7 233.3,260.0 231.2,264.0 229.5,267.5 226.5,271.0 224.5,272.8 223.3,268.8 222.0,266.2 221.4,270.1 220.1,271.4 217.5,270.1 215.5,267.5 214.2,262.3 213.5,257.1 214.8,253.1 212.9,250.5 210.9,249.2 209.6,246.6 207.0,245.3 205.8,244.2 208.3,242.5 212.5,240.8 216.7,238.3 221.7,235.8" fill="none"/>
<polygon points="195.4,250.5 198.0,248.0 202.0,246.3 200.0,249.0 197.0,252.2" fill="#000"/>
<polygon points="225.0,230.0 229.2,229.2 233.3,226.7 237.5,224.2 241.7,220.8 246.7,216.7 251.7,215.0 256.7,215.4 263.3,214.6 270.8,213.8 278.3,212.5 280.0,215.0 283.3,215.8 286.7,214.2 289.4,212.2 290.2,208.5 294.6,203.3 297.6,198.9 298.3,193.0 301.3,190.0 305.7,190.7 303.5,194.5 305.0,197.5 307.2,195.9 313.1,193.7 319.1,190.7 325.0,187.0 329.4,182.6 333.9,178.1 336.9,173.7 339.1,169.3 339.8,164.8 340.2,161.0 337.0,159.0 338.3,154.4 339.8,150.0 341.3,145.6 344.3,141.9 347.0,143.5 349.5,142.0 351.0,139.5 354.6,138.9 356.0,141.5 354.5,144.5 357.6,142.6 359.1,139.5 360.5,139.0 359.8,145.6 362.0,151.5 364.3,157.4 365.7,161.9 366.5,166.3 364.3,170.7 360.6,176.7 359.1,179.6 354.6,181.1 353.1,187.0 353.9,190.0 352.4,195.9 349.4,201.9 348.0,206.3 350.2,210.7 351.7,213.0 348.0,215.2 345.0,218.1 342.0,221.1 340.6,222.6 339.1,219.6 338.3,215.2 337.0,214.5 336.1,218.1 337.6,221.9 334.6,219.6 331.7,218.1 328.7,221.1 325.7,225.6 322.8,222.6 319.8,221.1 317.6,226.3 312.4,225.6 308.0,225.6 303.5,226.3 300.6,224.8 298.3,222.6 296.1,225.6 298.3,228.5 300.6,230.0 296.1,231.5 292.0,236.0 288.5,240.2 285.8,241.7 281.7,239.2 278.3,235.0 278.3,230.8 279.5,228.0 275.0,226.7 272.5,225.0 267.5,225.4 263.3,226.7 258.3,228.3 253.3,229.6 248.3,230.0 245.0,230.8 242.5,231.7 243.3,235.0 240.0,235.8 235.0,235.0 229.2,235.0 225.8,234.2" fill="none"/>
<polygon points="239.2,242.5 243.3,240.8 246.7,237.5 250.0,234.2 254.2,234.2 258.3,233.3 262.5,230.8 266.7,230.0 271.7,230.8 273.3,232.5 273.3,235.8 271.7,238.3 270.0,239.2 266.7,243.3 264.2,241.7 260.0,240.8 256.7,241.7 253.3,244.2 250.8,247.5 250.0,250.8 247.5,250.0 245.0,248.3 243.8,245.0 241.7,243.3" fill="none"/>
<polygon points="275.5,226.0 279.0,225.5 282.0,226.2 280.0,228.5 277.0,230.8 275.5,229.0" fill="none"/>
<polygon points="289.5,216.0 291.0,215.5 292.0,218.0 291.5,220.5 290.0,219.0" fill="none"/>
<polygon points="213.5,253.0 216.0,252.5 217.0,256.0 215.0,259.0 213.5,257.0" fill="#000"/>
<polygon points="207.5,259.0 208.8,258.5 208.5,262.0 207.3,262.0" fill="#000"/>
<polygon points="365.3,87.8 369.2,91.8 375.8,97.0 382.3,100.9 387.5,104.2 394.0,106.8 399.3,108.1 403.2,106.8 406.0,104.5 408.7,102.7 409.5,104.0 407.0,107.0 406.5,110.0 408.4,113.5 411.5,114.5 413.7,115.2 409.7,116.6 404.5,117.9 398.0,119.2 391.4,121.8 386.2,125.1 383.5,128.0 382.2,133.5 379.0,131.0 375.4,129.3 369.4,127.0 362.0,124.8 354.6,125.6 348.7,124.8 345.9,126.5 347.2,129.3 351.7,130.7 355.0,134.6 351.7,134.0 349.7,135.7 346.0,136.5 343.0,140.0 341.1,136.2 341.8,132.3 339.2,129.7 339.2,125.8 340.5,123.1 344.4,121.8 348.3,121.8 347.0,119.2 345.2,116.6 346.5,115.0 353.5,114.0 356.1,112.0 359.4,110.1 360.0,106.1 362.0,103.5 361.4,100.9 362.7,95.7 361.4,89.8" fill="none"/>
<polygon points="411.0,111.4 415.0,106.5 420.0,102.5 424.1,100.9 422.0,103.5 417.0,107.5 412.5,112.0" fill="none"/>
<polygon points="428.0,101.6 434.5,95.7 441.0,91.0 447.6,89.2 452.9,87.2 451.6,89.8 445.0,91.8 437.2,96.3 429.3,101.6" fill="none"/>
<polygon points="460.7,85.9 467.3,82.0 466.0,84.0 461.5,87.0" fill="none"/>
<polygon points="318.0,180.0 320.5,179.5 322.8,181.0 321.0,183.0 322.5,186.0 319.5,186.3 317.8,184.0" fill="none"/>
<polygon points="182.8,335.9 185.0,331.0 188.0,328.5 191.7,326.3 190.0,329.5 186.0,333.0 184.0,336.0" fill="#000"/>
<polygon points="203.5,310.0 206.0,307.0 209.4,305.6 207.5,308.0 204.5,310.0" fill="#000"/>
<polygon points="226.5,275.5 227.5,276.0 225.5,281.5 224.5,281.0" fill="#000"/>
</g>
<ellipse cx="219.5" cy="281" rx="1.8" ry="1.6" fill="#000"/>
<ellipse cx="199.1" cy="314.4" rx="1.2" ry="1.0" fill="#000"/>
<ellipse cx="153.5" cy="352" rx="1.4" ry="1.2" fill="#000"/>
<ellipse cx="134" cy="358" rx="2.0" ry="1.3" fill="#000"/>
<ellipse cx="138.5" cy="356.5" rx="1.3" ry="1.0" fill="#000"/>
<ellipse cx="169.1" cy="242.6" rx="4.8" ry="2.2" fill="none" stroke="#000" stroke-width="1.15"/>
<ellipse cx="209.4" cy="237.4" rx="1.0" ry="0.9" fill="#000"/>
<ellipse cx="254.6" cy="205.6" rx="1.5" ry="1.3" fill="#000"/>
<ellipse cx="253.9" cy="215.2" rx="0.9" ry="0.8" fill="#000"/>
<ellipse cx="345" cy="207.8" rx="1.2" ry="1.0" fill="#000"/>
<ellipse cx="356.7" cy="91.7" rx="1.3" ry="1.2" fill="#000"/>
<ellipse cx="333.9" cy="130.7" rx="1.2" ry="1.4" fill="#000"/>
<ellipse cx="426.1" cy="109.4" rx="2.0" ry="1.0" fill="#000"/>
<ellipse cx="424.8" cy="108.5" rx="1.2" ry="0.8" fill="#000"/>
<ellipse cx="140" cy="90.6" rx="2.0" ry="1.2" fill="#000"/>
<ellipse cx="147.7" cy="117.3" rx="1.2" ry="1.5" fill="#000"/>
<ellipse cx="151.2" cy="151" rx="2.6" ry="1.0" fill="#000"/>
<ellipse cx="172.2" cy="111.7" rx="2.2" ry="1.5" fill="#000"/>
<ellipse cx="198.9" cy="108" rx="1.6" ry="1.8" fill="#000"/>
<ellipse cx="184" cy="340" rx="1.0" ry="1.0" fill="#000"/>
<ellipse cx="165.5" cy="228.5" rx="1.6" ry="1.3" fill="#000"/>
<ellipse cx="166.5" cy="223.5" rx="1.3" ry="1.2" fill="#000"/>
<ellipse cx="168" cy="217.5" rx="1.2" ry="1.0" fill="#000"/>
<ellipse cx="170.5" cy="211" rx="1.2" ry="1.1" fill="#000"/>
<ellipse cx="165.5" cy="199.5" rx="1.3" ry="1.1" fill="#000"/>
<ellipse cx="170.5" cy="198" rx="1.0" ry="1.0" fill="#000"/>
<ellipse cx="173" cy="226.8" rx="1.4" ry="1.0" fill="#000"/>
<ellipse cx="178" cy="225.5" rx="1.3" ry="1.0" fill="#000"/>
<ellipse cx="184" cy="223.5" rx="1.2" ry="1.0" fill="#000"/>
<ellipse cx="190" cy="222.2" rx="1.3" ry="1.0" fill="#000"/>
<ellipse cx="196" cy="220.8" rx="1.2" ry="0.9" fill="#000"/>
<ellipse cx="200.5" cy="219.5" rx="1.0" ry="0.9" fill="#000"/>
<ellipse cx="150.5" cy="178.5" rx="1.2" ry="1.0" fill="#000"/>
<ellipse cx="147.8" cy="182" rx="1.2" ry="1.0" fill="#000"/>
<ellipse cx="152.5" cy="184.5" rx="1.0" ry="0.9" fill="#000"/>
<ellipse cx="158" cy="185.3" rx="0.9" ry="0.8" fill="#000"/>
<ellipse cx="208.5" cy="243.5" rx="1.4" ry="1.2" fill="#000"/>
<ellipse cx="211" cy="247.5" rx="1.2" ry="1.1" fill="#000"/>
<ellipse cx="213" cy="251.5" rx="1.1" ry="1.1" fill="#000"/>
<ellipse cx="216.5" cy="243" rx="1.0" ry="1.0" fill="#000"/>
<ellipse cx="214.5" cy="259" rx="1.0" ry="1.0" fill="#000"/>
<ellipse cx="201" cy="247.5" rx="1.1" ry="0.9" fill="#000"/>
<g stroke="#000" stroke-opacity="0.3" stroke-width="1">
<line x1="149.4" y1="31.5" x2="149.4" y2="414.5"/>
<line x1="213.0" y1="31.5" x2="213.0" y2="414.5"/>
<line x1="276.7" y1="31.5" x2="276.7" y2="414.5"/>
<line x1="340.6" y1="31.5" x2="340.6" y2="414.5"/>
<line x1="404.5" y1="31.5" x2="404.5" y2="414.5"/>
<line x1="85.5" y1="94.5" x2="468.5" y2="94.5"/>
<line x1="85.5" y1="158.5" x2="468.5" y2="158.5"/>
<line x1="85.5" y1="222.4" x2="468.5" y2="222.4"/>
<line x1="85.5" y1="286.0" x2="468.5" y2="286.0"/>
<line x1="85.5" y1="349.9" x2="468.5" y2="349.9"/>
</g>
</g>
</g>
<g transform="translate(470,0)"><g font-size="8.6" fill="#111">
<text x="119.2" y="92.8" textLength="18.6" lengthAdjust="spacingAndGlyphs">45°N</text>
<text x="119.2" y="156.8" textLength="18.6" lengthAdjust="spacingAndGlyphs">40°N</text>
<text x="119.2" y="220.7" textLength="18.6" lengthAdjust="spacingAndGlyphs">35°N</text>
<text x="119.2" y="284.3" textLength="18.6" lengthAdjust="spacingAndGlyphs">30°N</text>
<text x="119.2" y="348.2" textLength="18.6" lengthAdjust="spacingAndGlyphs">25°N</text>
<text x="142.7" y="388.9" textLength="22.4" lengthAdjust="spacingAndGlyphs">125°E</text>
<text x="206.3" y="388.9" textLength="22.4" lengthAdjust="spacingAndGlyphs">130°E</text>
<text x="270.0" y="388.9" textLength="22.4" lengthAdjust="spacingAndGlyphs">135°E</text>
</g></g>
<rect x="810.4" y="271.3" width="105.4" height="104.1" fill="#fff"/>
<g stroke="#000" stroke-width="0.8">
<path d="M831.4 324.9h4.4M833.6 322.7v4.4"/>
<path d="M821.6 330.8h4.4M823.8 328.6v4.4"/>
<path d="M821.6 334.6h4.4M823.8 332.4v4.4"/>
<path d="M817.3 333.8h4.4M819.5 331.6v4.4"/>
<path d="M828.4 336.7h4.4M830.6 334.5v4.4"/>
<path d="M831.4 340.7h4.4M833.6 338.5v4.4"/>
<path d="M817.3 338.2h4.4M819.5 336.0v4.4"/>
<path d="M829.5 351.5h4.4M831.7 349.3v4.4"/>
<path d="M834.3 355.5h4.4M836.5 353.3v4.4"/>
<path d="M848.6 356.7h4.4M850.8 354.5v4.4"/>
<path d="M863.6 355.5h4.4M865.8 353.3v4.4"/>
<path d="M865.7 364.1h4.4M867.9 361.9v4.4"/>
<path d="M866.2 365.0h4.4M868.4 362.8v4.4"/>
<path d="M835.4 371.4h4.4M837.6 369.2v4.4"/>
<path d="M822.3 356.1h4.4M824.5 353.9v4.4"/>
<path d="M825.1 365.0h4.4M827.3 362.8v4.4"/>
<path d="M825.1 362.9h4.4M827.3 360.7v4.4"/>
<path d="M823.0 369.2h4.4M825.2 367.0v4.4"/>
<path d="M826.1 374.4h4.4M828.3 372.2v4.4"/>
<path d="M877.8 334.8h4.4M880.0 332.6v4.4"/>
<path d="M812.4 341.0h4.4M814.6 338.8v4.4"/>
<path d="M813.5 343.1h4.4M815.7 340.9v4.4"/>
<path d="M814.5 345.2h4.4M816.7 343.0v4.4"/>
<path d="M815.6 342.1h4.4M817.8 339.9v4.4"/>
<path d="M812.9 347.3h4.4M815.1 345.1v4.4"/>
<path d="M814.0 349.4h4.4M816.2 347.2v4.4"/>
<path d="M816.6 346.3h4.4M818.8 344.1v4.4"/>
<path d="M818.7 344.2h4.4M820.9 342.0v4.4"/>
<path d="M819.8 348.3h4.4M822.0 346.1v4.4"/>
<path d="M811.9 350.4h4.4M814.1 348.2v4.4"/>
<path d="M817.7 340.0h4.4M819.9 337.8v4.4"/>
<path d="M813.5 339.0h4.4M815.7 336.8v4.4"/>
<path d="M811.4 354.6h4.4M813.6 352.4v4.4"/>
<path d="M812.4 358.7h4.4M814.6 356.5v4.4"/>
<path d="M811.4 362.9h4.4M813.6 360.7v4.4"/>
<path d="M814.5 360.8h4.4M816.7 358.6v4.4"/>
<path d="M820.8 361.9h4.4M823.0 359.7v4.4"/>
<path d="M818.7 366.0h4.4M820.9 363.8v4.4"/>
<path d="M816.6 363.9h4.4M818.8 361.7v4.4"/>
<path d="M821.9 368.1h4.4M824.1 365.9v4.4"/>
<path d="M810.3 373.3h4.4M812.5 371.1v4.4"/>
<path d="M811.4 370.2h4.4M813.6 368.0v4.4"/>
<path d="M813.5 372.3h4.4M815.7 370.1v4.4"/>
<path d="M815.6 369.2h4.4M817.8 367.0v4.4"/>
<path d="M817.7 371.2h4.4M819.9 369.0v4.4"/>
<path d="M809.3 367.1h4.4M811.5 364.9v4.4"/>
<path d="M810.3 365.0h4.4M812.5 362.8v4.4"/>
<path d="M814.5 374.4h4.4M816.7 372.2v4.4"/>
<path d="M819.8 373.3h4.4M822.0 371.1v4.4"/>
<path d="M812.4 366.0h4.4M814.6 363.8v4.4"/>
<path d="M816.6 373.3h4.4M818.8 371.1v4.4"/>
<path d="M824.0 371.2h4.4M826.2 369.0v4.4"/>
<path d="M809.8 370.7h4.4M812.0 368.5v4.4"/>
<path d="M810.8 374.9h4.4M813.0 372.7v4.4"/>
<path d="M814.0 367.6h4.4M816.2 365.4v4.4"/>
<path d="M820.8 370.2h4.4M823.0 368.0v4.4"/>
<path d="M829.3 374.9h4.4M831.5 372.7v4.4"/>
<path d="M811.9 373.8h4.4M814.1 371.6v4.4"/>
<path d="M816.1 371.8h4.4M818.3 369.6v4.4"/>
<path d="M809.3 374.4h4.4M811.5 372.2v4.4"/>
</g>
<g stroke="#000" stroke-width="0.8">
<path d="M809.4 372.7h4.4M811.6 370.5v4.4"/>
<path d="M809.3 373.8h4.4M811.5 371.6v4.4"/>
<path d="M812.6 374.3h4.4M814.8 372.1v4.4"/>
<path d="M813.5 373.2h4.4M815.7 371.0v4.4"/>
<path d="M813.1 374.1h4.4M815.3 371.9v4.4"/>
<path d="M810.1 374.4h4.4M812.3 372.2v4.4"/>
<path d="M816.1 370.9h4.4M818.3 368.7v4.4"/>
<path d="M810.6 372.8h4.4M812.8 370.6v4.4"/>
<path d="M816.2 366.3h4.4M818.4 364.1v4.4"/>
<path d="M812.4 373.0h4.4M814.6 370.8v4.4"/>
<path d="M809.6 375.2h4.4M811.8 373.0v4.4"/>
<path d="M810.7 372.1h4.4M812.9 369.9v4.4"/>
<path d="M809.7 373.3h4.4M811.9 371.1v4.4"/>
<path d="M811.3 366.5h4.4M813.5 364.3v4.4"/>
<path d="M810.8 369.2h4.4M813.0 367.0v4.4"/>
<path d="M811.1 371.6h4.4M813.3 369.4v4.4"/>
<path d="M809.8 374.8h4.4M812.0 372.6v4.4"/>
<path d="M811.2 374.1h4.4M813.4 371.9v4.4"/>
<path d="M810.3 370.4h4.4M812.5 368.2v4.4"/>
<path d="M810.7 369.0h4.4M812.9 366.8v4.4"/>
<path d="M812.0 374.1h4.4M814.2 371.9v4.4"/>
<path d="M810.2 367.6h4.4M812.4 365.4v4.4"/>
<path d="M808.4 368.6h4.4M810.6 366.4v4.4"/>
<path d="M817.8 373.7h4.4M820.0 371.5v4.4"/>
<path d="M808.7 371.1h4.4M810.9 368.9v4.4"/>
<path d="M810.6 375.1h4.4M812.8 372.9v4.4"/>
<path d="M815.1 371.1h4.4M817.3 368.9v4.4"/>
<path d="M811.4 370.5h4.4M813.6 368.3v4.4"/>
<path d="M815.0 373.5h4.4M817.2 371.3v4.4"/>
<path d="M808.8 368.6h4.4M811.0 366.4v4.4"/>
<path d="M811.1 372.2h4.4M813.3 370.0v4.4"/>
<path d="M810.3 368.8h4.4M812.5 366.6v4.4"/>
<path d="M812.8 372.6h4.4M815.0 370.4v4.4"/>
<path d="M814.3 364.8h4.4M816.5 362.6v4.4"/>
<path d="M815.1 374.2h4.4M817.3 372.0v4.4"/>
<path d="M815.0 372.4h4.4M817.2 370.2v4.4"/>
<path d="M817.2 362.3h4.4M819.4 360.1v4.4"/>
<path d="M809.9 371.6h4.4M812.1 369.4v4.4"/>
<path d="M813.5 370.3h4.4M815.7 368.1v4.4"/>
<path d="M813.4 374.6h4.4M815.6 372.4v4.4"/>
<path d="M809.4 373.1h4.4M811.6 370.9v4.4"/>
<path d="M815.8 372.2h4.4M818.0 370.0v4.4"/>
<path d="M810.7 372.5h4.4M812.9 370.3v4.4"/>
<path d="M815.6 368.7h4.4M817.8 366.5v4.4"/>
<path d="M812.7 372.6h4.4M814.9 370.4v4.4"/>
<path d="M817.6 372.1h4.4M819.8 369.9v4.4"/>
<path d="M812.2 366.0h4.4M814.4 363.8v4.4"/>
<path d="M809.1 370.1h4.4M811.3 367.9v4.4"/>
<path d="M814.4 367.0h4.4M816.6 364.8v4.4"/>
<path d="M810.8 374.6h4.4M813.0 372.4v4.4"/>
<path d="M809.7 372.0h4.4M811.9 369.8v4.4"/>
<path d="M808.8 369.4h4.4M811.0 367.2v4.4"/>
<path d="M811.3 373.2h4.4M813.5 371.0v4.4"/>
<path d="M813.1 375.3h4.4M815.3 373.1v4.4"/>
<path d="M812.4 370.5h4.4M814.6 368.3v4.4"/>
<path d="M815.2 373.1h4.4M817.4 370.9v4.4"/>
<path d="M814.7 374.7h4.4M816.9 372.5v4.4"/>
<path d="M808.9 373.8h4.4M811.1 371.6v4.4"/>
<path d="M814.9 370.1h4.4M817.1 367.9v4.4"/>
<path d="M814.2 368.8h4.4M816.4 366.6v4.4"/>
<path d="M811.9 372.1h4.4M814.1 369.9v4.4"/>
<path d="M813.6 370.9h4.4M815.8 368.7v4.4"/>
<path d="M809.8 374.7h4.4M812.0 372.5v4.4"/>
<path d="M808.9 372.4h4.4M811.1 370.2v4.4"/>
<path d="M809.0 374.0h4.4M811.2 371.8v4.4"/>
<path d="M810.9 375.4h4.4M813.1 373.2v4.4"/>
<path d="M811.8 372.5h4.4M814.0 370.3v4.4"/>
<path d="M817.7 373.7h4.4M819.9 371.5v4.4"/>
<path d="M810.2 373.5h4.4M812.4 371.3v4.4"/>
<path d="M808.3 370.6h4.4M810.5 368.4v4.4"/>
<path d="M809.8 373.4h4.4M812.0 371.2v4.4"/>
<path d="M816.9 362.1h4.4M819.1 359.9v4.4"/>
<path d="M813.5 374.1h4.4M815.7 371.9v4.4"/>
<path d="M810.1 374.2h4.4M812.3 372.0v4.4"/>
<path d="M810.2 372.0h4.4M812.4 369.8v4.4"/>
<path d="M809.5 372.7h4.4M811.7 370.5v4.4"/>
<path d="M819.7 373.6h4.4M821.9 371.4v4.4"/>
<path d="M810.8 374.9h4.4M813.0 372.7v4.4"/>
<path d="M809.3 375.1h4.4M811.5 372.9v4.4"/>
<path d="M821.1 372.9h4.4M823.3 370.7v4.4"/>
<path d="M813.0 369.3h4.4M815.2 367.1v4.4"/>
<path d="M808.5 370.4h4.4M810.7 368.2v4.4"/>
<path d="M812.3 367.6h4.4M814.5 365.4v4.4"/>
<path d="M816.3 373.6h4.4M818.5 371.4v4.4"/>
<path d="M809.8 372.2h4.4M812.0 370.0v4.4"/>
<path d="M813.4 361.4h4.4M815.6 359.2v4.4"/>
<path d="M813.4 367.9h4.4M815.6 365.7v4.4"/>
<path d="M811.4 367.6h4.4M813.6 365.4v4.4"/>
<path d="M809.0 369.2h4.4M811.2 367.0v4.4"/>
<path d="M808.9 374.4h4.4M811.1 372.2v4.4"/>
<path d="M812.0 374.7h4.4M814.2 372.5v4.4"/>
<path d="M808.6 367.4h4.4M810.8 365.2v4.4"/>
<path d="M813.2 373.9h4.4M815.4 371.7v4.4"/>
<path d="M821.2 369.4h4.4M823.4 367.2v4.4"/>
<path d="M812.5 374.0h4.4M814.7 371.8v4.4"/>
<path d="M808.8 371.7h4.4M811.0 369.5v4.4"/>
<path d="M809.3 372.1h4.4M811.5 369.9v4.4"/>
<path d="M815.4 367.5h4.4M817.6 365.3v4.4"/>
<path d="M811.1 370.4h4.4M813.3 368.2v4.4"/>
<path d="M813.1 367.7h4.4M815.3 365.5v4.4"/>
<path d="M814.2 371.5h4.4M816.4 369.3v4.4"/>
<path d="M815.2 370.5h4.4M817.4 368.3v4.4"/>
<path d="M808.2 369.5h4.4M810.4 367.3v4.4"/>
<path d="M811.8 367.1h4.4M814.0 364.9v4.4"/>
<path d="M812.4 367.3h4.4M814.6 365.1v4.4"/>
<path d="M812.9 374.5h4.4M815.1 372.3v4.4"/>
<path d="M817.6 368.1h4.4M819.8 365.9v4.4"/>
<path d="M808.7 372.3h4.4M810.9 370.1v4.4"/>
<path d="M810.1 373.3h4.4M812.3 371.1v4.4"/>
<path d="M815.3 370.1h4.4M817.5 367.9v4.4"/>
<path d="M813.6 367.7h4.4M815.8 365.5v4.4"/>
<path d="M815.1 374.5h4.4M817.3 372.3v4.4"/>
<path d="M811.7 370.1h4.4M813.9 367.9v4.4"/>
<path d="M808.7 374.8h4.4M810.9 372.6v4.4"/>
<path d="M815.0 374.0h4.4M817.2 371.8v4.4"/>
<path d="M819.1 373.4h4.4M821.3 371.2v4.4"/>
<path d="M817.0 371.1h4.4M819.2 368.9v4.4"/>
<path d="M809.7 372.2h4.4M811.9 370.0v4.4"/>
<path d="M808.2 371.1h4.4M810.4 368.9v4.4"/>
<path d="M808.6 368.5h4.4M810.8 366.3v4.4"/>
<path d="M808.5 370.0h4.4M810.7 367.8v4.4"/>
<path d="M815.3 367.0h4.4M817.5 364.8v4.4"/>
<path d="M811.4 370.8h4.4M813.6 368.6v4.4"/>
<path d="M817.1 369.8h4.4M819.3 367.6v4.4"/>
<path d="M817.5 369.8h4.4M819.7 367.6v4.4"/>
<path d="M814.0 375.3h4.4M816.2 373.1v4.4"/>
<path d="M809.1 375.3h4.4M811.3 373.1v4.4"/>
<path d="M811.0 374.2h4.4M813.2 372.0v4.4"/>
<path d="M816.7 375.2h4.4M818.9 373.0v4.4"/>
<path d="M810.7 370.2h4.4M812.9 368.0v4.4"/>
<path d="M809.1 368.8h4.4M811.3 366.6v4.4"/>
<path d="M810.8 369.8h4.4M813.0 367.6v4.4"/>
<path d="M816.0 372.3h4.4M818.2 370.1v4.4"/>
<path d="M813.0 371.3h4.4M815.2 369.1v4.4"/>
<path d="M808.2 371.2h4.4M810.4 369.0v4.4"/>
<path d="M809.0 369.3h4.4M811.2 367.1v4.4"/>
<path d="M815.6 372.1h4.4M817.8 369.9v4.4"/>
<path d="M812.6 372.5h4.4M814.8 370.3v4.4"/>
<path d="M812.5 371.4h4.4M814.7 369.2v4.4"/>
<path d="M815.5 374.8h4.4M817.7 372.6v4.4"/>
<path d="M815.7 344.7h4.4M817.9 342.5v4.4"/>
<path d="M815.9 338.8h4.4M818.1 336.6v4.4"/>
<path d="M818.0 339.7h4.4M820.2 337.5v4.4"/>
<path d="M820.3 348.7h4.4M822.5 346.5v4.4"/>
<path d="M816.7 338.8h4.4M818.9 336.6v4.4"/>
<path d="M819.3 350.5h4.4M821.5 348.3v4.4"/>
<path d="M812.5 346.1h4.4M814.7 343.9v4.4"/>
<path d="M812.1 349.0h4.4M814.3 346.8v4.4"/>
<path d="M812.1 342.7h4.4M814.3 340.5v4.4"/>
<path d="M818.8 339.4h4.4M821.0 337.2v4.4"/>
<path d="M812.8 342.1h4.4M815.0 339.9v4.4"/>
<path d="M817.6 350.4h4.4M819.8 348.2v4.4"/>
<path d="M819.7 338.4h4.4M821.9 336.2v4.4"/>
<path d="M813.4 338.6h4.4M815.6 336.4v4.4"/>
<path d="M815.1 345.4h4.4M817.3 343.2v4.4"/>
<path d="M820.8 340.4h4.4M823.0 338.2v4.4"/>
<path d="M812.9 346.2h4.4M815.1 344.0v4.4"/>
<path d="M816.3 347.6h4.4M818.5 345.4v4.4"/>
<path d="M813.2 347.9h4.4M815.4 345.7v4.4"/>
<path d="M818.2 352.2h4.4M820.4 350.0v4.4"/>
<path d="M816.6 346.1h4.4M818.8 343.9v4.4"/>
<path d="M811.5 347.7h4.4M813.7 345.5v4.4"/>
<path d="M817.3 345.0h4.4M819.5 342.8v4.4"/>
<path d="M812.0 338.1h4.4M814.2 335.9v4.4"/>
<path d="M818.8 338.3h4.4M821.0 336.1v4.4"/>
</g>
<line x1="810.4" y1="375.4" x2="915.8" y2="271.3" stroke="#000" stroke-width="1"/>
<rect x="810.4" y="271.3" width="105.4" height="104.1" fill="none" stroke="#000" stroke-width="0.9"/>
<rect x="805" y="376" width="116" height="13.6" fill="#fff"/>
<rect x="836" y="389.6" width="51" height="10" fill="#fff"/>
<g stroke="#000" stroke-width="0.8">
<line x1="810.4" y1="375.4" x2="810.4" y2="378.4"/>
<line x1="810.4" y1="375.4" x2="807.4" y2="375.4"/>
<line x1="815.7" y1="375.4" x2="815.7" y2="377.09999999999997"/>
<line x1="810.4" y1="370.2" x2="808.6999999999999" y2="370.2"/>
<line x1="820.9" y1="375.4" x2="820.9" y2="377.09999999999997"/>
<line x1="810.4" y1="365.0" x2="808.6999999999999" y2="365.0"/>
<line x1="826.2" y1="375.4" x2="826.2" y2="377.09999999999997"/>
<line x1="810.4" y1="359.8" x2="808.6999999999999" y2="359.8"/>
<line x1="831.5" y1="375.4" x2="831.5" y2="378.4"/>
<line x1="810.4" y1="354.6" x2="807.4" y2="354.6"/>
<line x1="836.8" y1="375.4" x2="836.8" y2="377.09999999999997"/>
<line x1="810.4" y1="349.4" x2="808.6999999999999" y2="349.4"/>
<line x1="842.0" y1="375.4" x2="842.0" y2="377.09999999999997"/>
<line x1="810.4" y1="344.2" x2="808.6999999999999" y2="344.2"/>
<line x1="847.3" y1="375.4" x2="847.3" y2="377.09999999999997"/>
<line x1="810.4" y1="339.0" x2="808.6999999999999" y2="339.0"/>
<line x1="852.6" y1="375.4" x2="852.6" y2="378.4"/>
<line x1="810.4" y1="333.8" x2="807.4" y2="333.8"/>
<line x1="857.8" y1="375.4" x2="857.8" y2="377.09999999999997"/>
<line x1="810.4" y1="328.6" x2="808.6999999999999" y2="328.6"/>
<line x1="863.1" y1="375.4" x2="863.1" y2="377.09999999999997"/>
<line x1="810.4" y1="323.4" x2="808.6999999999999" y2="323.4"/>
<line x1="868.4" y1="375.4" x2="868.4" y2="377.09999999999997"/>
<line x1="810.4" y1="318.1" x2="808.6999999999999" y2="318.1"/>
<line x1="873.6" y1="375.4" x2="873.6" y2="378.4"/>
<line x1="810.4" y1="312.9" x2="807.4" y2="312.9"/>
<line x1="878.9" y1="375.4" x2="878.9" y2="377.09999999999997"/>
<line x1="810.4" y1="307.7" x2="808.6999999999999" y2="307.7"/>
<line x1="884.2" y1="375.4" x2="884.2" y2="377.09999999999997"/>
<line x1="810.4" y1="302.5" x2="808.6999999999999" y2="302.5"/>
<line x1="889.4" y1="375.4" x2="889.4" y2="377.09999999999997"/>
<line x1="810.4" y1="297.3" x2="808.6999999999999" y2="297.3"/>
<line x1="894.7" y1="375.4" x2="894.7" y2="378.4"/>
<line x1="810.4" y1="292.1" x2="807.4" y2="292.1"/>
<line x1="900.0" y1="375.4" x2="900.0" y2="377.09999999999997"/>
<line x1="810.4" y1="286.9" x2="808.6999999999999" y2="286.9"/>
<line x1="905.3" y1="375.4" x2="905.3" y2="377.09999999999997"/>
<line x1="810.4" y1="281.7" x2="808.6999999999999" y2="281.7"/>
<line x1="910.5" y1="375.4" x2="910.5" y2="377.09999999999997"/>
<line x1="810.4" y1="276.5" x2="808.6999999999999" y2="276.5"/>
<line x1="915.8" y1="375.4" x2="915.8" y2="378.4"/>
<line x1="810.4" y1="271.3" x2="807.4" y2="271.3"/>
</g>
<g font-size="8.3">
<text x="810.4" y="388.7" text-anchor="middle">0</text>
<text x="803.6" y="378.4" text-anchor="end">0</text>
<text x="831.5" y="388.7" text-anchor="middle">2</text>
<text x="803.6" y="357.6" text-anchor="end">2</text>
<text x="852.6" y="388.7" text-anchor="middle">4</text>
<text x="803.6" y="336.8" text-anchor="end">4</text>
<text x="873.6" y="388.7" text-anchor="middle">6</text>
<text x="803.6" y="315.9" text-anchor="end">6</text>
<text x="894.7" y="388.7" text-anchor="middle">8</text>
<text x="803.6" y="295.1" text-anchor="end">8</text>
<text x="915.8" y="388.7" text-anchor="middle">10</text>
<text x="803.6" y="274.3" text-anchor="end">10</text>
</g>
<text x="861.7" y="398.7" font-size="10" text-anchor="middle" textLength="45.8" lengthAdjust="spacingAndGlyphs">ANALYSIS</text>
<text x="0" y="0" font-size="10" text-anchor="middle" transform="translate(792.2,325) rotate(-90)" textLength="88" lengthAdjust="spacingAndGlyphs">GSMAP_MWR_1HR</text>
<rect x="555.5" y="31.5" width="383" height="383" fill="none" stroke="#000" stroke-width="1.1"/>
<text x="561.5" y="406.8" font-size="10" textLength="102.4" lengthAdjust="spacingAndGlyphs">Provided by JWA/JMA</text>
<rect x="971.9" y="377.50" width="21.70" height="36.50" fill="#FFE6BE"/>
<rect x="971.9" y="341.00" width="21.70" height="36.50" fill="#E1FFCC"/>
<rect x="971.9" y="304.50" width="21.70" height="36.50" fill="#96FA96"/>
<rect x="971.9" y="268.00" width="21.70" height="36.50" fill="#64FFFF"/>
<rect x="971.9" y="231.50" width="21.70" height="36.50" fill="#00C8FF"/>
<rect x="971.9" y="195.00" width="21.70" height="36.50" fill="#0064FF"/>
<rect x="971.9" y="158.50" width="21.70" height="36.50" fill="#9664FF"/>
<rect x="971.9" y="122.00" width="21.70" height="36.50" fill="#DC64FF"/>
<rect x="971.9" y="85.50" width="21.70" height="36.50" fill="#FF00FF"/>
<rect x="971.9" y="49.00" width="21.70" height="36.50" fill="#D29B41"/>
<polygon points="971.9,49.0 993.6,49.0 982.75,30.5" fill="#000"/>
<polygon points="971.9,414.0 971.9,49.0 982.75,30.5 993.6,49.0 993.6,414.0" fill="none" stroke="#000" stroke-width="0.8"/>
<line x1="993.6" y1="414.00" x2="998.6" y2="414.00" stroke="#000" stroke-width="0.8"/>
<text x="1001.5" y="418.0" font-size="10.5" text-anchor="start">0</text>
<line x1="993.6" y1="377.50" x2="998.6" y2="377.50" stroke="#000" stroke-width="0.8"/>
<text x="1001.5" y="381.5" font-size="10.5" text-anchor="start">0.01</text>
<line x1="993.6" y1="341.00" x2="998.6" y2="341.00" stroke="#000" stroke-width="0.8"/>
<text x="1001.5" y="345.0" font-size="10.5" text-anchor="start">0.5</text>
<line x1="993.6" y1="304.50" x2="998.6" y2="304.50" stroke="#000" stroke-width="0.8"/>
<text x="1001.5" y="308.5" font-size="10.5" text-anchor="start">1</text>
<line x1="993.6" y1="268.00" x2="998.6" y2="268.00" stroke="#000" stroke-width="0.8"/>
<text x="1001.5" y="272.0" font-size="10.5" text-anchor="start">2</text>
<line x1="993.6" y1="231.50" x2="998.6" y2="231.50" stroke="#000" stroke-width="0.8"/>
<text x="1001.5" y="235.5" font-size="10.5" text-anchor="start">3</text>
<line x1="993.6" y1="195.00" x2="998.6" y2="195.00" stroke="#000" stroke-width="0.8"/>
<text x="1001.5" y="199.0" font-size="10.5" text-anchor="start">4</text>
<line x1="993.6" y1="158.50" x2="998.6" y2="158.50" stroke="#000" stroke-width="0.8"/>
<text x="1001.5" y="162.5" font-size="10.5" text-anchor="start">5</text>
<line x1="993.6" y1="122.00" x2="998.6" y2="122.00" stroke="#000" stroke-width="0.8"/>
<text x="1001.5" y="126.0" font-size="10.5" text-anchor="start">10</text>
<line x1="993.6" y1="85.50" x2="998.6" y2="85.50" stroke="#000" stroke-width="0.8"/>
<text x="1001.5" y="89.5" font-size="10.5" text-anchor="start">25</text>
<line x1="993.6" y1="49.00" x2="998.6" y2="49.00" stroke="#000" stroke-width="0.8"/>
<text x="1001.5" y="53.0" font-size="10.5" text-anchor="start">50</text>
<text x="92.6" y="423.7" font-size="9" text-anchor="start" textLength="33.4" lengthAdjust="spacingAndGlyphs">MetOp-A</text>
<text x="92.3" y="434.9" font-size="9" text-anchor="start" textLength="50.8" lengthAdjust="spacingAndGlyphs">AMSU-A/MHS</text>
<text x="140.3" y="446.7" font-size="10" text-anchor="middle" textLength="143" lengthAdjust="spacingAndGlyphs">Hourly fraction by occurence</text>
<rect x="74.3" y="452.6" width="48.10" height="17.80" fill="#FFE6BE" stroke="#222" stroke-width="0.8"/>
<rect x="122.4" y="452.6" width="48.20" height="17.80" fill="#E1FFCC" stroke="#222" stroke-width="0.8"/>
<rect x="170.6" y="452.6" width="11.90" height="17.80" fill="#96FA96" stroke="#222" stroke-width="0.8"/>
<rect x="182.5" y="452.6" width="10.00" height="17.80" fill="#64FFFF" stroke="#222" stroke-width="0.8"/>
<rect x="192.5" y="452.6" width="6.80" height="17.80" fill="#00C8FF" stroke="#222" stroke-width="0.8"/>
<rect x="199.3" y="452.6" width="5.80" height="17.80" fill="#0064FF" stroke="#222" stroke-width="0.8"/>
<rect x="205.1" y="452.6" width="1.20" height="17.80" fill="#9664FF" stroke="#222" stroke-width="0.45"/>
<rect x="206.3" y="452.6" width="0.90" height="17.80" fill="#DC64FF" stroke="#222" stroke-width="0.45"/>
<rect x="74.3" y="479.4" width="35.10" height="18.00" fill="#FFE6BE" stroke="#222" stroke-width="0.8"/>
<rect x="109.4" y="479.4" width="60.10" height="18.00" fill="#E1FFCC" stroke="#222" stroke-width="0.8"/>
<rect x="169.5" y="479.4" width="24.10" height="18.00" fill="#96FA96" stroke="#222" stroke-width="0.8"/>
<rect x="193.6" y="479.4" width="8.70" height="18.00" fill="#64FFFF" stroke="#222" stroke-width="0.8"/>
<rect x="202.3" y="479.4" width="1.50" height="18.00" fill="#00C8FF" stroke="#222" stroke-width="0.45"/>
<rect x="203.8" y="479.4" width="1.30" height="18.00" fill="#0064FF" stroke="#222" stroke-width="0.45"/>
<rect x="205.1" y="479.4" width="1.20" height="18.00" fill="#9664FF" stroke="#222" stroke-width="0.45"/>
<rect x="206.3" y="479.4" width="0.90" height="18.00" fill="#DC64FF" stroke="#222" stroke-width="0.45"/>
<line x1="122.4" y1="470.4" x2="109.4" y2="479.4" stroke="#000" stroke-width="0.8"/>
<line x1="170.6" y1="470.4" x2="169.5" y2="479.4" stroke="#000" stroke-width="0.8"/>
<line x1="182.5" y1="470.4" x2="193.6" y2="479.4" stroke="#000" stroke-width="0.8"/>
<line x1="192.5" y1="470.4" x2="202.3" y2="479.4" stroke="#000" stroke-width="0.8"/>
<line x1="199.3" y1="470.4" x2="203.8" y2="479.4" stroke="#000" stroke-width="0.8"/>
<line x1="205.1" y1="470.4" x2="205.1" y2="479.4" stroke="#000" stroke-width="0.8"/>
<line x1="206.3" y1="470.4" x2="206.3" y2="479.4" stroke="#000" stroke-width="0.8"/>
<text x="47.4" y="466.0" font-size="10" text-anchor="start">Est</text>
<text x="48.0" y="493.0" font-size="10" text-anchor="start">Obs</text>
<text x="58.5" y="509.6" font-size="10" text-anchor="start">0%</text>
<text x="135.6" y="509.6" font-size="10" text-anchor="middle">Areal fraction</text>
<text x="194.6" y="509.6" font-size="10" text-anchor="start">100%</text>
<text x="140.0" y="527.8" font-size="10" text-anchor="middle" textLength="135.2" lengthAdjust="spacingAndGlyphs">Hourly fraction of total rain</text>
<rect x="74.3" y="533.3" width="17.20" height="18.00" fill="#E1FFCC" stroke="#222" stroke-width="0.8"/>
<rect x="91.5" y="533.3" width="13.70" height="18.00" fill="#96FA96" stroke="#222" stroke-width="0.8"/>
<rect x="105.2" y="533.3" width="25.20" height="18.00" fill="#64FFFF" stroke="#222" stroke-width="0.8"/>
<rect x="130.4" y="533.3" width="30.00" height="18.00" fill="#00C8FF" stroke="#222" stroke-width="0.8"/>
<rect x="160.4" y="533.3" width="36.10" height="18.00" fill="#0064FF" stroke="#222" stroke-width="0.8"/>
<rect x="196.5" y="533.3" width="11.10" height="18.00" fill="#9664FF" stroke="#222" stroke-width="0.8"/>
<rect x="74.3" y="560.2" width="25.90" height="18.10" fill="#E1FFCC" stroke="#222" stroke-width="0.8"/>
<rect x="100.2" y="560.2" width="29.20" height="18.10" fill="#96FA96" stroke="#222" stroke-width="0.8"/>
<rect x="129.4" y="560.2" width="21.20" height="18.10" fill="#64FFFF" stroke="#222" stroke-width="0.8"/>
<rect x="150.6" y="560.2" width="10.70" height="18.10" fill="#00C8FF" stroke="#222" stroke-width="0.8"/>
<rect x="161.3" y="560.2" width="2.80" height="18.10" fill="#0064FF" stroke="#222" stroke-width="0.45"/>
<rect x="164.1" y="560.2" width="17.60" height="18.10" fill="#DC64FF" stroke="#222" stroke-width="0.8"/>
<line x1="91.5" y1="551.3" x2="100.2" y2="560.2" stroke="#000" stroke-width="0.8"/>
<line x1="105.2" y1="551.3" x2="129.4" y2="560.2" stroke="#000" stroke-width="0.8"/>
<line x1="130.4" y1="551.3" x2="150.6" y2="560.2" stroke="#000" stroke-width="0.8"/>
<line x1="160.4" y1="551.3" x2="161.3" y2="560.2" stroke="#000" stroke-width="0.8"/>
<line x1="196.5" y1="551.3" x2="164.1" y2="560.2" stroke="#000" stroke-width="0.8"/>
<line x1="207.6" y1="551.3" x2="181.7" y2="560.2" stroke="#000" stroke-width="0.8"/>
<line x1="74.3" y1="551.3" x2="74.3" y2="560.2" stroke="#000" stroke-width="0.8"/>
<text x="47.4" y="547.1" font-size="10" text-anchor="start">Est</text>
<text x="48.0" y="574.0" font-size="10" text-anchor="start">Obs</text>
<text x="140.7" y="588.9" font-size="10" text-anchor="middle" textLength="164.5" lengthAdjust="spacingAndGlyphs">Rainfall accumulation by amount</text>
<text x="339.4" y="454.9" font-size="10" text-anchor="middle" textLength="90" lengthAdjust="spacingAndGlyphs">GSMAP_MWR_1HR</text>
<text x="308.2" y="469.7" font-size="10" text-anchor="middle" textLength="29" lengthAdjust="spacingAndGlyphs">&lt;0.01</text>
<text x="369.6" y="469.7" font-size="10" text-anchor="middle" textLength="28.4" lengthAdjust="spacingAndGlyphs">≥0.01</text>
<rect x="277.6" y="478.2" width="124" height="95.2" fill="none" stroke="#000" stroke-width="1"/>
<line x1="339.4" y1="478.2" x2="339.4" y2="573.4" stroke="#000" stroke-width="1"/>
<line x1="277.6" y1="526.7" x2="401.6" y2="526.7" stroke="#000" stroke-width="1"/>
<text x="307.9" y="506.1" font-size="10" text-anchor="middle" textLength="16.6" lengthAdjust="spacingAndGlyphs">225</text>
<text x="370.7" y="506.1" font-size="10" text-anchor="middle" textLength="11" lengthAdjust="spacingAndGlyphs">35</text>
<text x="307.9" y="553.0" font-size="10" text-anchor="middle" textLength="10" lengthAdjust="spacingAndGlyphs">11</text>
<text x="370.7" y="553.0" font-size="10" text-anchor="middle" textLength="11" lengthAdjust="spacingAndGlyphs">20</text>
<text x="274.8" y="506.1" font-size="10" text-anchor="end" textLength="28.2" lengthAdjust="spacingAndGlyphs">&lt;0.01</text>
<text x="274.8" y="553.0" font-size="10" text-anchor="end" textLength="28.2" lengthAdjust="spacingAndGlyphs">≥0.01</text>
<text x="0" y="0" font-size="10" text-anchor="middle" transform="translate(246.2,520.5) rotate(-90)">ANALYSIS</text>
<text x="460.2" y="453.5" font-size="10" text-anchor="start" textLength="387.4" lengthAdjust="spacingAndGlyphs" xml:space="preserve">Validation statistics for 20250727 01  n=291 Valid. grid=0.25° Units=mm/hr.</text>
<line x1="457.2" y1="457.4" x2="996.8" y2="457.4" stroke="#000" stroke-width="1" stroke-dasharray="3.7 1.6"/>
<text x="632.2" y="475.0" font-size="10" text-anchor="middle" textLength="46.3" lengthAdjust="spacingAndGlyphs">ANALYSIS</text>
<text x="713.3" y="475.0" font-size="10" text-anchor="middle" textLength="89.7" lengthAdjust="spacingAndGlyphs">GSMAP_MWR_1HR</text>
<line x1="457.2" y1="480.4" x2="758.2" y2="480.4" stroke="#000" stroke-width="1" stroke-dasharray="3.7 1.6"/>
<text x="460.4" y="498.7" font-size="10" text-anchor="start">Num of gridpoints raining</text>
<text x="641.0" y="498.7" font-size="10" text-anchor="middle">31</text>
<text x="721.5" y="498.7" font-size="10" text-anchor="middle">55</text>
<text x="460.4" y="518.9" font-size="10" text-anchor="start">Average rain</text>
<text x="641.0" y="518.9" font-size="10" text-anchor="middle">0.5</text>
<text x="721.5" y="518.9" font-size="10" text-anchor="middle">0.6</text>
<text x="460.4" y="538.7" font-size="10" text-anchor="start">Conditional rain</text>
<text x="641.0" y="538.7" font-size="10" text-anchor="middle">4.5</text>
<text x="721.5" y="538.7" font-size="10" text-anchor="middle">3.1</text>
<text x="641.0" y="558.6" font-size="10" text-anchor="middle">0.1</text>
<text x="721.5" y="558.6" font-size="10" text-anchor="middle">0.1</text>
<text x="460.4" y="577.8" font-size="10" text-anchor="start">Maximum rain</text>
<text x="641.0" y="577.8" font-size="10" text-anchor="middle">6.6</text>
<text x="721.5" y="577.8" font-size="10" text-anchor="middle">4.9</text>
<text x="461.3" y="558.6" font-size="10">Rain volume (mm km<tspan font-size="7" dy="-3.5">2</tspan><tspan dy="3.5">10</tspan><tspan font-size="7" dy="-3.5">6</tspan><tspan dy="3.5">)</tspan></text>
<text x="784.3" y="472.0" font-size="10" text-anchor="start" xml:space="preserve">Mean abs error =    0.5</text>
<text x="784.3" y="488.9" font-size="10" text-anchor="start" xml:space="preserve">RMS error =    1.0</text>
<text x="784.3" y="505.7" font-size="10" text-anchor="start" xml:space="preserve">Correlation coeff =  0.451</text>
<text x="784.3" y="522.9" font-size="10" text-anchor="start" xml:space="preserve">Frequency bias =  1.774</text>
<text x="784.3" y="539.6" font-size="10" text-anchor="start" xml:space="preserve">Probability of detection =  0.645</text>
<text x="784.3" y="556.6" font-size="10" text-anchor="start" xml:space="preserve">False alarm ratio =  0.636</text>
<text x="784.3" y="573.3" font-size="10" text-anchor="start" xml:space="preserve">Hanssen &amp; Kuipers score =  0.511</text>
<text x="784.3" y="590.6" font-size="10" text-anchor="start" xml:space="preserve">Equitable threat score =  0.235</text>
</svg>
</body></html>
